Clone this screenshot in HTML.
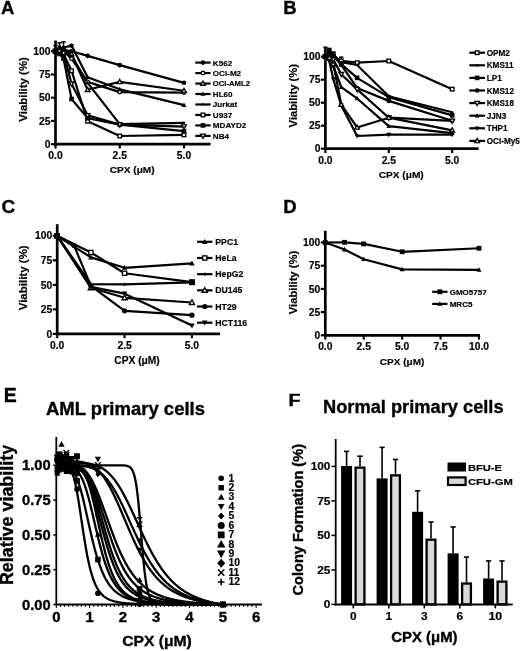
<!DOCTYPE html>
<html><head><meta charset="utf-8"><style>
html,body{margin:0;padding:0;background:#fff;}
svg{display:block;filter:grayscale(1);}
text{font-family:"Liberation Sans",sans-serif;font-weight:bold;}
</style></head><body>
<svg width="520" height="651" viewBox="0 0 520 651">
<rect width="520" height="651" fill="#fff"/>
<text x="1.00" y="14.20" font-size="18.5" text-anchor="start" font-family="Liberation Sans, sans-serif" font-weight="bold"  stroke="#000" stroke-width="0.35">A</text>
<text x="283.30" y="13.80" font-size="18.5" text-anchor="start" font-family="Liberation Sans, sans-serif" font-weight="bold"  stroke="#000" stroke-width="0.35">B</text>
<text x="1.50" y="212.90" font-size="19" text-anchor="start" font-family="Liberation Sans, sans-serif" font-weight="bold"  stroke="#000" stroke-width="0.35">C</text>
<text x="283.30" y="212.90" font-size="18.5" text-anchor="start" font-family="Liberation Sans, sans-serif" font-weight="bold"  stroke="#000" stroke-width="0.35">D</text>
<text x="3.70" y="402.30" font-size="19.5" text-anchor="start" font-family="Liberation Sans, sans-serif" font-weight="bold"  stroke="#000" stroke-width="0.35">E</text>
<text x="288.40" y="406.40" font-size="17.4" text-anchor="start" font-family="Liberation Sans, sans-serif" font-weight="bold"  textLength="12.00" lengthAdjust="spacingAndGlyphs" stroke="#000" stroke-width="0.35">F</text>
<polyline points="55.50,51.20 59.51,49.34 63.53,50.27 71.56,51.20 87.62,55.85 119.75,65.15 184.00,82.82" fill="none" stroke="#000" stroke-width="2.2" stroke-linejoin="round"/>
<polyline points="55.50,51.20 59.51,50.27 63.53,51.20 71.56,58.64 87.62,81.89 119.75,92.12 184.00,92.58" fill="none" stroke="#000" stroke-width="2.2" stroke-linejoin="round"/>
<polyline points="55.50,51.20 59.51,47.48 63.53,48.41 71.56,53.99 87.62,89.79 119.75,81.89 184.00,90.72" fill="none" stroke="#000" stroke-width="2.2" stroke-linejoin="round"/>
<polyline points="55.50,51.20 59.51,48.41 63.53,47.48 71.56,45.62 87.62,77.24 119.75,89.33 184.00,105.14" fill="none" stroke="#000" stroke-width="2.2" stroke-linejoin="round"/>
<polyline points="55.50,51.20 59.51,50.27 63.53,49.34 71.56,55.85 87.62,82.82 119.75,124.20 184.00,122.81" fill="none" stroke="#000" stroke-width="2.2" stroke-linejoin="round"/>
<polyline points="55.50,51.20 59.51,52.13 63.53,53.99 71.56,70.73 87.62,121.23 119.75,136.02 184.00,134.90" fill="none" stroke="#000" stroke-width="2.2" stroke-linejoin="round"/>
<polyline points="55.50,51.20 59.51,53.99 63.53,58.64 71.56,99.00 87.62,118.16 119.75,124.67 184.00,131.18" fill="none" stroke="#000" stroke-width="2.2" stroke-linejoin="round"/>
<polyline points="55.50,51.20 59.51,51.20 63.53,53.06 71.56,83.75 87.62,115.37 119.75,124.67 184.00,126.53" fill="none" stroke="#000" stroke-width="2.2" stroke-linejoin="round"/>
<line x1="59.51" y1="51.20" x2="59.51" y2="42.83" stroke="#000" stroke-width="1.5" />
<line x1="57.31" y1="42.83" x2="61.71" y2="42.83" stroke="#000" stroke-width="1.5" />
<line x1="63.53" y1="50.27" x2="63.53" y2="41.90" stroke="#000" stroke-width="1.5" />
<line x1="61.33" y1="41.90" x2="65.73" y2="41.90" stroke="#000" stroke-width="1.5" />
<line x1="55.50" y1="51.20" x2="55.50" y2="45.62" stroke="#000" stroke-width="1.5" />
<line x1="53.30" y1="45.62" x2="57.70" y2="45.62" stroke="#000" stroke-width="1.5" />
<line x1="71.56" y1="47.48" x2="71.56" y2="44.69" stroke="#000" stroke-width="1.5" />
<line x1="69.36" y1="44.69" x2="73.76" y2="44.69" stroke="#000" stroke-width="1.5" />
<circle cx="55.50" cy="51.20" r="2.30" fill="#000"/>
<circle cx="59.51" cy="49.34" r="2.30" fill="#000"/>
<circle cx="63.53" cy="50.27" r="2.30" fill="#000"/>
<circle cx="71.56" cy="51.20" r="2.30" fill="#000"/>
<circle cx="87.62" cy="55.85" r="2.30" fill="#000"/>
<circle cx="119.75" cy="65.15" r="2.30" fill="#000"/>
<circle cx="184.00" cy="82.82" r="2.30" fill="#000"/>
<circle cx="55.50" cy="51.20" r="1.80" fill="#fff" stroke="#000" stroke-width="1.35"/>
<circle cx="59.51" cy="50.27" r="1.80" fill="#fff" stroke="#000" stroke-width="1.35"/>
<circle cx="63.53" cy="51.20" r="1.80" fill="#fff" stroke="#000" stroke-width="1.35"/>
<circle cx="71.56" cy="58.64" r="1.80" fill="#fff" stroke="#000" stroke-width="1.35"/>
<circle cx="87.62" cy="81.89" r="1.80" fill="#fff" stroke="#000" stroke-width="1.35"/>
<circle cx="119.75" cy="92.12" r="1.80" fill="#fff" stroke="#000" stroke-width="1.35"/>
<circle cx="184.00" cy="92.58" r="1.80" fill="#fff" stroke="#000" stroke-width="1.35"/>
<polygon points="55.50,48.78 57.80,52.92 53.20,52.92" fill="#fff" stroke="#000" stroke-width="1.35"/>
<polygon points="59.51,45.06 61.81,49.20 57.21,49.20" fill="#fff" stroke="#000" stroke-width="1.35"/>
<polygon points="63.53,45.99 65.83,50.13 61.23,50.13" fill="#fff" stroke="#000" stroke-width="1.35"/>
<polygon points="71.56,51.57 73.86,55.71 69.26,55.71" fill="#fff" stroke="#000" stroke-width="1.35"/>
<polygon points="87.62,87.38 89.92,91.52 85.33,91.52" fill="#fff" stroke="#000" stroke-width="1.35"/>
<polygon points="119.75,79.47 122.05,83.61 117.45,83.61" fill="#fff" stroke="#000" stroke-width="1.35"/>
<polygon points="184.00,88.31 186.30,92.45 181.70,92.45" fill="#fff" stroke="#000" stroke-width="1.35"/>
<polygon points="55.50,48.67 57.91,53.04 53.09,53.04" fill="#000"/>
<polygon points="59.51,45.88 61.92,50.25 57.09,50.25" fill="#000"/>
<polygon points="63.53,44.95 65.95,49.32 61.12,49.32" fill="#000"/>
<polygon points="71.56,43.09 73.98,47.46 69.15,47.46" fill="#000"/>
<polygon points="87.62,74.71 90.04,79.08 85.21,79.08" fill="#000"/>
<polygon points="119.75,86.80 122.17,91.17 117.33,91.17" fill="#000"/>
<polygon points="184.00,102.61 186.41,106.98 181.59,106.98" fill="#000"/>
<polygon points="55.50,49.59 57.11,51.20 55.50,52.81 53.89,51.20" fill="#000"/>
<polygon points="59.51,48.66 61.12,50.27 59.51,51.88 57.90,50.27" fill="#000"/>
<polygon points="63.53,47.73 65.14,49.34 63.53,50.95 61.92,49.34" fill="#000"/>
<polygon points="71.56,54.24 73.17,55.85 71.56,57.46 69.95,55.85" fill="#000"/>
<polygon points="87.62,81.21 89.23,82.82 87.62,84.43 86.02,82.82" fill="#000"/>
<polygon points="119.75,122.59 121.36,124.20 119.75,125.81 118.14,124.20" fill="#000"/>
<polygon points="184.00,121.20 185.61,122.81 184.00,124.42 182.39,122.81" fill="#000"/>
<rect x="53.70" y="49.40" width="3.60" height="3.60" fill="#fff" stroke="#000" stroke-width="1.35"/>
<rect x="57.71" y="50.33" width="3.60" height="3.60" fill="#fff" stroke="#000" stroke-width="1.35"/>
<rect x="61.73" y="52.19" width="3.60" height="3.60" fill="#fff" stroke="#000" stroke-width="1.35"/>
<rect x="69.76" y="68.93" width="3.60" height="3.60" fill="#fff" stroke="#000" stroke-width="1.35"/>
<rect x="85.83" y="119.43" width="3.60" height="3.60" fill="#fff" stroke="#000" stroke-width="1.35"/>
<rect x="117.95" y="134.22" width="3.60" height="3.60" fill="#fff" stroke="#000" stroke-width="1.35"/>
<rect x="182.20" y="133.10" width="3.60" height="3.60" fill="#fff" stroke="#000" stroke-width="1.35"/>
<rect x="53.20" y="48.90" width="4.60" height="4.60" fill="#000"/>
<rect x="57.21" y="51.69" width="4.60" height="4.60" fill="#000"/>
<rect x="61.23" y="56.34" width="4.60" height="4.60" fill="#000"/>
<rect x="69.26" y="96.70" width="4.60" height="4.60" fill="#000"/>
<rect x="85.33" y="115.86" width="4.60" height="4.60" fill="#000"/>
<rect x="117.45" y="122.37" width="4.60" height="4.60" fill="#000"/>
<rect x="181.70" y="128.88" width="4.60" height="4.60" fill="#000"/>
<polygon points="55.50,53.61 57.80,49.47 53.20,49.47" fill="#fff" stroke="#000" stroke-width="1.35"/>
<polygon points="59.51,53.61 61.81,49.47 57.21,49.47" fill="#fff" stroke="#000" stroke-width="1.35"/>
<polygon points="63.53,55.47 65.83,51.33 61.23,51.33" fill="#fff" stroke="#000" stroke-width="1.35"/>
<polygon points="71.56,86.16 73.86,82.02 69.26,82.02" fill="#fff" stroke="#000" stroke-width="1.35"/>
<polygon points="87.62,117.78 89.92,113.64 85.33,113.64" fill="#fff" stroke="#000" stroke-width="1.35"/>
<polygon points="119.75,127.08 122.05,122.94 117.45,122.94" fill="#fff" stroke="#000" stroke-width="1.35"/>
<polygon points="184.00,128.94 186.30,124.80 181.70,124.80" fill="#fff" stroke="#000" stroke-width="1.35"/>
<line x1="55.50" y1="40.50" x2="55.50" y2="145.55" stroke="#000" stroke-width="2.7" />
<line x1="54.15" y1="144.20" x2="210.50" y2="144.20" stroke="#000" stroke-width="2.7" />
<line x1="51.00" y1="144.20" x2="55.50" y2="144.20" stroke="#000" stroke-width="2.16" />
<text x="50.50" y="147.89" font-size="10.3" text-anchor="end" font-family="Liberation Sans, sans-serif" font-weight="bold"  stroke="#000" stroke-width="0.18">0</text>
<line x1="51.00" y1="120.95" x2="55.50" y2="120.95" stroke="#000" stroke-width="2.16" />
<text x="50.50" y="124.64" font-size="10.3" text-anchor="end" font-family="Liberation Sans, sans-serif" font-weight="bold"  stroke="#000" stroke-width="0.18">25</text>
<line x1="51.00" y1="97.70" x2="55.50" y2="97.70" stroke="#000" stroke-width="2.16" />
<text x="50.50" y="101.39" font-size="10.3" text-anchor="end" font-family="Liberation Sans, sans-serif" font-weight="bold"  stroke="#000" stroke-width="0.18">50</text>
<line x1="51.00" y1="74.45" x2="55.50" y2="74.45" stroke="#000" stroke-width="2.16" />
<text x="50.50" y="78.14" font-size="10.3" text-anchor="end" font-family="Liberation Sans, sans-serif" font-weight="bold"  stroke="#000" stroke-width="0.18">75</text>
<line x1="51.00" y1="51.20" x2="55.50" y2="51.20" stroke="#000" stroke-width="2.16" />
<text x="50.50" y="54.89" font-size="10.3" text-anchor="end" font-family="Liberation Sans, sans-serif" font-weight="bold"  stroke="#000" stroke-width="0.18">100</text>
<line x1="55.50" y1="144.20" x2="55.50" y2="148.50" stroke="#000" stroke-width="2.16" />
<text x="55.50" y="159.10" font-size="10.3" text-anchor="middle" font-family="Liberation Sans, sans-serif" font-weight="bold"  stroke="#000" stroke-width="0.18">0.0</text>
<line x1="119.75" y1="144.20" x2="119.75" y2="148.50" stroke="#000" stroke-width="2.16" />
<text x="119.75" y="159.10" font-size="10.3" text-anchor="middle" font-family="Liberation Sans, sans-serif" font-weight="bold"  stroke="#000" stroke-width="0.18">2.5</text>
<line x1="184.00" y1="144.20" x2="184.00" y2="148.50" stroke="#000" stroke-width="2.16" />
<text x="184.00" y="159.10" font-size="10.3" text-anchor="middle" font-family="Liberation Sans, sans-serif" font-weight="bold"  stroke="#000" stroke-width="0.18">5.0</text>
<text x="132.20" y="173.10" font-size="9.9" text-anchor="middle" font-family="Liberation Sans, sans-serif" font-weight="bold"  textLength="44.90" lengthAdjust="spacingAndGlyphs" stroke="#000" stroke-width="0.18">CPX (&#956;M)</text>
<text x="26.90" y="89.40" font-size="11.1" text-anchor="middle" font-family="Liberation Sans, sans-serif" font-weight="bold" transform="rotate(-90 26.90 89.40)"  textLength="64.60" lengthAdjust="spacingAndGlyphs" stroke="#000" stroke-width="0.18">Viability (%)</text>
<line x1="195.30" y1="62.60" x2="210.60" y2="62.60" stroke="#000" stroke-width="2.2" />
<circle cx="202.95" cy="62.60" r="2.30" fill="#000"/>
<text x="212.80" y="65.50" font-size="8.1" text-anchor="start" font-family="Liberation Sans, sans-serif" font-weight="bold"  stroke="#000" stroke-width="0.18">K562</text>
<line x1="195.30" y1="73.07" x2="210.60" y2="73.07" stroke="#000" stroke-width="2.2" />
<circle cx="202.95" cy="73.07" r="1.80" fill="#fff" stroke="#000" stroke-width="1.35"/>
<text x="212.80" y="75.97" font-size="8.1" text-anchor="start" font-family="Liberation Sans, sans-serif" font-weight="bold"  stroke="#000" stroke-width="0.18">OCI-M2</text>
<line x1="195.30" y1="83.54" x2="210.60" y2="83.54" stroke="#000" stroke-width="2.2" />
<polygon points="202.95,81.12 205.25,85.27 200.65,85.27" fill="#fff" stroke="#000" stroke-width="1.35"/>
<text x="212.80" y="86.44" font-size="8.1" text-anchor="start" font-family="Liberation Sans, sans-serif" font-weight="bold"  textLength="37.20" lengthAdjust="spacingAndGlyphs" stroke="#000" stroke-width="0.18">OCI-AML2</text>
<line x1="195.30" y1="94.01" x2="210.60" y2="94.01" stroke="#000" stroke-width="2.2" />
<polygon points="202.95,91.48 205.36,95.85 200.53,95.85" fill="#000"/>
<text x="212.80" y="96.91" font-size="8.1" text-anchor="start" font-family="Liberation Sans, sans-serif" font-weight="bold"  stroke="#000" stroke-width="0.18">HL60</text>
<line x1="195.30" y1="104.48" x2="210.60" y2="104.48" stroke="#000" stroke-width="2.2" />
<polygon points="202.95,102.87 204.56,104.48 202.95,106.09 201.34,104.48" fill="#000"/>
<text x="212.80" y="107.38" font-size="8.1" text-anchor="start" font-family="Liberation Sans, sans-serif" font-weight="bold"  stroke="#000" stroke-width="0.18">Jurkat</text>
<line x1="195.30" y1="114.95" x2="210.60" y2="114.95" stroke="#000" stroke-width="2.2" />
<rect x="201.15" y="113.15" width="3.60" height="3.60" fill="#fff" stroke="#000" stroke-width="1.35"/>
<text x="212.80" y="117.85" font-size="8.1" text-anchor="start" font-family="Liberation Sans, sans-serif" font-weight="bold"  stroke="#000" stroke-width="0.18">U937</text>
<line x1="195.30" y1="125.42" x2="210.60" y2="125.42" stroke="#000" stroke-width="2.2" />
<rect x="200.65" y="123.12" width="4.60" height="4.60" fill="#000"/>
<text x="212.80" y="128.32" font-size="8.1" text-anchor="start" font-family="Liberation Sans, sans-serif" font-weight="bold"  stroke="#000" stroke-width="0.18">MDAYD2</text>
<line x1="195.30" y1="135.89" x2="210.60" y2="135.89" stroke="#000" stroke-width="2.2" />
<polygon points="202.95,138.31 205.25,134.17 200.65,134.17" fill="#fff" stroke="#000" stroke-width="1.35"/>
<text x="212.80" y="138.79" font-size="8.1" text-anchor="start" font-family="Liberation Sans, sans-serif" font-weight="bold"  stroke="#000" stroke-width="0.18">NB4</text>
<polyline points="325.40,56.70 329.36,53.94 333.32,56.70 341.25,60.84 357.10,62.68 388.80,61.02 452.20,89.18" fill="none" stroke="#000" stroke-width="2.2" stroke-linejoin="round"/>
<polyline points="325.40,56.70 329.36,53.02 333.32,54.86 341.25,62.22 357.10,64.98 388.80,96.26 452.20,112.27" fill="none" stroke="#000" stroke-width="2.2" stroke-linejoin="round"/>
<polyline points="325.40,56.70 329.36,51.18 333.32,53.94 341.25,64.06 357.10,77.86 388.80,97.18 452.20,115.40" fill="none" stroke="#000" stroke-width="2.2" stroke-linejoin="round"/>
<polyline points="325.40,56.70 329.36,54.86 333.32,55.78 341.25,64.98 357.10,87.98 388.80,100.86 452.20,120.82" fill="none" stroke="#000" stroke-width="2.2" stroke-linejoin="round"/>
<polyline points="325.40,56.70 329.36,56.70 333.32,59.46 341.25,74.18 357.10,89.36 388.80,117.70 452.20,120.82" fill="none" stroke="#000" stroke-width="2.2" stroke-linejoin="round"/>
<polyline points="325.40,56.70 329.36,53.02 333.32,65.90 341.25,87.06 357.10,98.47 388.80,126.16 452.20,133.06" fill="none" stroke="#000" stroke-width="2.2" stroke-linejoin="round"/>
<polyline points="325.40,56.70 329.36,61.30 333.32,79.24 341.25,105.46 357.10,136.00 388.80,134.62 452.20,134.62" fill="none" stroke="#000" stroke-width="2.2" stroke-linejoin="round"/>
<polyline points="325.40,56.70 329.36,57.62 333.32,64.06 341.25,104.54 357.10,127.45 388.80,117.70 452.20,130.30" fill="none" stroke="#000" stroke-width="2.2" stroke-linejoin="round"/>
<line x1="325.40" y1="56.70" x2="325.40" y2="47.50" stroke="#000" stroke-width="1.5" />
<line x1="323.20" y1="47.50" x2="327.60" y2="47.50" stroke="#000" stroke-width="1.5" />
<line x1="329.36" y1="53.02" x2="329.36" y2="48.42" stroke="#000" stroke-width="1.5" />
<line x1="327.16" y1="48.42" x2="331.56" y2="48.42" stroke="#000" stroke-width="1.5" />
<line x1="333.32" y1="55.78" x2="333.32" y2="52.10" stroke="#000" stroke-width="1.5" />
<line x1="331.12" y1="52.10" x2="335.52" y2="52.10" stroke="#000" stroke-width="1.5" />
<line x1="341.25" y1="59.46" x2="341.25" y2="57.16" stroke="#000" stroke-width="1.5" />
<line x1="339.05" y1="57.16" x2="343.45" y2="57.16" stroke="#000" stroke-width="1.5" />
<rect x="323.60" y="54.90" width="3.60" height="3.60" fill="#fff" stroke="#000" stroke-width="1.35"/>
<rect x="327.56" y="52.14" width="3.60" height="3.60" fill="#fff" stroke="#000" stroke-width="1.35"/>
<rect x="331.52" y="54.90" width="3.60" height="3.60" fill="#fff" stroke="#000" stroke-width="1.35"/>
<rect x="339.45" y="59.04" width="3.60" height="3.60" fill="#fff" stroke="#000" stroke-width="1.35"/>
<rect x="355.30" y="60.88" width="3.60" height="3.60" fill="#fff" stroke="#000" stroke-width="1.35"/>
<rect x="387.00" y="59.22" width="3.60" height="3.60" fill="#fff" stroke="#000" stroke-width="1.35"/>
<rect x="450.40" y="87.38" width="3.60" height="3.60" fill="#fff" stroke="#000" stroke-width="1.35"/>
<polygon points="325.40,55.09 327.01,56.70 325.40,58.31 323.79,56.70" fill="#000"/>
<polygon points="329.36,51.41 330.97,53.02 329.36,54.63 327.75,53.02" fill="#000"/>
<polygon points="333.32,53.25 334.94,54.86 333.32,56.47 331.71,54.86" fill="#000"/>
<polygon points="341.25,60.61 342.86,62.22 341.25,63.83 339.64,62.22" fill="#000"/>
<polygon points="357.10,63.37 358.71,64.98 357.10,66.59 355.49,64.98" fill="#000"/>
<polygon points="388.80,94.65 390.41,96.26 388.80,97.87 387.19,96.26" fill="#000"/>
<polygon points="452.20,110.66 453.81,112.27 452.20,113.88 450.59,112.27" fill="#000"/>
<rect x="323.10" y="54.40" width="4.60" height="4.60" fill="#000"/>
<rect x="327.06" y="48.88" width="4.60" height="4.60" fill="#000"/>
<rect x="331.02" y="51.64" width="4.60" height="4.60" fill="#000"/>
<rect x="338.95" y="61.76" width="4.60" height="4.60" fill="#000"/>
<rect x="354.80" y="75.56" width="4.60" height="4.60" fill="#000"/>
<rect x="386.50" y="94.88" width="4.60" height="4.60" fill="#000"/>
<rect x="449.90" y="113.10" width="4.60" height="4.60" fill="#000"/>
<circle cx="325.40" cy="56.70" r="2.30" fill="#000"/>
<circle cx="329.36" cy="54.86" r="2.30" fill="#000"/>
<circle cx="333.32" cy="55.78" r="2.30" fill="#000"/>
<circle cx="341.25" cy="64.98" r="2.30" fill="#000"/>
<circle cx="357.10" cy="87.98" r="2.30" fill="#000"/>
<circle cx="388.80" cy="100.86" r="2.30" fill="#000"/>
<circle cx="452.20" cy="120.82" r="2.30" fill="#000"/>
<polygon points="325.40,59.11 327.70,54.97 323.10,54.97" fill="#fff" stroke="#000" stroke-width="1.35"/>
<polygon points="329.36,59.11 331.66,54.97 327.06,54.97" fill="#fff" stroke="#000" stroke-width="1.35"/>
<polygon points="333.32,61.87 335.62,57.73 331.02,57.73" fill="#fff" stroke="#000" stroke-width="1.35"/>
<polygon points="341.25,76.59 343.55,72.45 338.95,72.45" fill="#fff" stroke="#000" stroke-width="1.35"/>
<polygon points="357.10,91.77 359.40,87.63 354.80,87.63" fill="#fff" stroke="#000" stroke-width="1.35"/>
<polygon points="388.80,120.11 391.10,115.97 386.50,115.97" fill="#fff" stroke="#000" stroke-width="1.35"/>
<polygon points="452.20,123.24 454.50,119.10 449.90,119.10" fill="#fff" stroke="#000" stroke-width="1.35"/>
<polygon points="325.40,54.17 327.81,58.54 322.98,58.54" fill="#000"/>
<polygon points="329.36,50.49 331.77,54.86 326.94,54.86" fill="#000"/>
<polygon points="333.32,63.37 335.74,67.74 330.91,67.74" fill="#000"/>
<polygon points="341.25,84.53 343.67,88.90 338.83,88.90" fill="#000"/>
<polygon points="357.10,95.94 359.51,100.31 354.68,100.31" fill="#000"/>
<polygon points="388.80,123.63 391.21,128.00 386.38,128.00" fill="#000"/>
<polygon points="452.20,130.53 454.62,134.90 449.78,134.90" fill="#000"/>
<polygon points="325.40,59.23 327.81,54.86 322.98,54.86" fill="#000"/>
<polygon points="329.36,63.83 331.77,59.46 326.94,59.46" fill="#000"/>
<polygon points="333.32,81.77 335.74,77.40 330.91,77.40" fill="#000"/>
<polygon points="341.25,107.99 343.67,103.62 338.83,103.62" fill="#000"/>
<polygon points="357.10,138.53 359.51,134.16 354.68,134.16" fill="#000"/>
<polygon points="388.80,137.15 391.21,132.78 386.38,132.78" fill="#000"/>
<polygon points="452.20,137.15 454.62,132.78 449.78,132.78" fill="#000"/>
<polygon points="325.40,54.28 327.70,58.42 323.10,58.42" fill="#fff" stroke="#000" stroke-width="1.35"/>
<polygon points="329.36,55.20 331.66,59.34 327.06,59.34" fill="#fff" stroke="#000" stroke-width="1.35"/>
<polygon points="333.32,61.64 335.62,65.78 331.02,65.78" fill="#fff" stroke="#000" stroke-width="1.35"/>
<polygon points="341.25,102.12 343.55,106.26 338.95,106.26" fill="#fff" stroke="#000" stroke-width="1.35"/>
<polygon points="357.10,125.03 359.40,129.17 354.80,129.17" fill="#fff" stroke="#000" stroke-width="1.35"/>
<polygon points="388.80,115.28 391.10,119.42 386.50,119.42" fill="#fff" stroke="#000" stroke-width="1.35"/>
<polygon points="452.20,127.88 454.50,132.02 449.90,132.02" fill="#fff" stroke="#000" stroke-width="1.35"/>
<line x1="325.40" y1="46.50" x2="325.40" y2="150.05" stroke="#000" stroke-width="2.7" />
<line x1="324.05" y1="148.70" x2="478.60" y2="148.70" stroke="#000" stroke-width="2.7" />
<line x1="320.90" y1="148.70" x2="325.40" y2="148.70" stroke="#000" stroke-width="2.16" />
<text x="320.40" y="152.39" font-size="10.3" text-anchor="end" font-family="Liberation Sans, sans-serif" font-weight="bold"  stroke="#000" stroke-width="0.18">0</text>
<line x1="320.90" y1="125.70" x2="325.40" y2="125.70" stroke="#000" stroke-width="2.16" />
<text x="320.40" y="129.39" font-size="10.3" text-anchor="end" font-family="Liberation Sans, sans-serif" font-weight="bold"  stroke="#000" stroke-width="0.18">25</text>
<line x1="320.90" y1="102.70" x2="325.40" y2="102.70" stroke="#000" stroke-width="2.16" />
<text x="320.40" y="106.39" font-size="10.3" text-anchor="end" font-family="Liberation Sans, sans-serif" font-weight="bold"  stroke="#000" stroke-width="0.18">50</text>
<line x1="320.90" y1="79.70" x2="325.40" y2="79.70" stroke="#000" stroke-width="2.16" />
<text x="320.40" y="83.39" font-size="10.3" text-anchor="end" font-family="Liberation Sans, sans-serif" font-weight="bold"  stroke="#000" stroke-width="0.18">75</text>
<line x1="320.90" y1="56.70" x2="325.40" y2="56.70" stroke="#000" stroke-width="2.16" />
<text x="320.40" y="60.39" font-size="10.3" text-anchor="end" font-family="Liberation Sans, sans-serif" font-weight="bold"  stroke="#000" stroke-width="0.18">100</text>
<line x1="325.40" y1="148.70" x2="325.40" y2="153.00" stroke="#000" stroke-width="2.16" />
<text x="325.40" y="163.60" font-size="10.3" text-anchor="middle" font-family="Liberation Sans, sans-serif" font-weight="bold"  stroke="#000" stroke-width="0.18">0.0</text>
<line x1="388.80" y1="148.70" x2="388.80" y2="153.00" stroke="#000" stroke-width="2.16" />
<text x="388.80" y="163.60" font-size="10.3" text-anchor="middle" font-family="Liberation Sans, sans-serif" font-weight="bold"  stroke="#000" stroke-width="0.18">2.5</text>
<line x1="452.20" y1="148.70" x2="452.20" y2="153.00" stroke="#000" stroke-width="2.16" />
<text x="452.20" y="163.60" font-size="10.3" text-anchor="middle" font-family="Liberation Sans, sans-serif" font-weight="bold"  stroke="#000" stroke-width="0.18">5.0</text>
<text x="401.25" y="177.60" font-size="9.9" text-anchor="middle" font-family="Liberation Sans, sans-serif" font-weight="bold"  textLength="45.00" lengthAdjust="spacingAndGlyphs" stroke="#000" stroke-width="0.18">CPX (&#956;M)</text>
<text x="296.90" y="95.65" font-size="11.1" text-anchor="middle" font-family="Liberation Sans, sans-serif" font-weight="bold" transform="rotate(-90 296.90 95.65)"  textLength="63.50" lengthAdjust="spacingAndGlyphs" stroke="#000" stroke-width="0.18">Viability (%)</text>
<line x1="469.30" y1="52.70" x2="485.00" y2="52.70" stroke="#000" stroke-width="2.2" />
<rect x="475.35" y="50.90" width="3.60" height="3.60" fill="#fff" stroke="#000" stroke-width="1.35"/>
<text x="486.70" y="55.81" font-size="8.7" text-anchor="start" font-family="Liberation Sans, sans-serif" font-weight="bold"  textLength="23.18" lengthAdjust="spacingAndGlyphs" stroke="#000" stroke-width="0.18">OPM2</text>
<line x1="469.30" y1="65.30" x2="485.00" y2="65.30" stroke="#000" stroke-width="2.2" />
<polygon points="477.15,63.69 478.76,65.30 477.15,66.91 475.54,65.30" fill="#000"/>
<text x="486.70" y="68.41" font-size="8.7" text-anchor="start" font-family="Liberation Sans, sans-serif" font-weight="bold"  textLength="26.82" lengthAdjust="spacingAndGlyphs" stroke="#000" stroke-width="0.18">KMS11</text>
<line x1="469.30" y1="77.90" x2="485.00" y2="77.90" stroke="#000" stroke-width="2.2" />
<rect x="474.85" y="75.60" width="4.60" height="4.60" fill="#000"/>
<text x="486.70" y="81.01" font-size="8.7" text-anchor="start" font-family="Liberation Sans, sans-serif" font-weight="bold"  textLength="15.00" lengthAdjust="spacingAndGlyphs" stroke="#000" stroke-width="0.18">LP1</text>
<line x1="469.30" y1="90.50" x2="485.00" y2="90.50" stroke="#000" stroke-width="2.2" />
<circle cx="477.15" cy="90.50" r="2.30" fill="#000"/>
<text x="486.70" y="93.61" font-size="8.7" text-anchor="start" font-family="Liberation Sans, sans-serif" font-weight="bold"  textLength="27.27" lengthAdjust="spacingAndGlyphs" stroke="#000" stroke-width="0.18">KMS12</text>
<line x1="469.30" y1="103.10" x2="485.00" y2="103.10" stroke="#000" stroke-width="2.2" />
<polygon points="477.15,105.52 479.45,101.38 474.85,101.38" fill="#fff" stroke="#000" stroke-width="1.35"/>
<text x="486.70" y="106.21" font-size="8.7" text-anchor="start" font-family="Liberation Sans, sans-serif" font-weight="bold"  textLength="27.27" lengthAdjust="spacingAndGlyphs" stroke="#000" stroke-width="0.18">KMS18</text>
<line x1="469.30" y1="115.70" x2="485.00" y2="115.70" stroke="#000" stroke-width="2.2" />
<polygon points="477.15,113.17 479.56,117.54 474.73,117.54" fill="#000"/>
<text x="486.70" y="118.81" font-size="8.7" text-anchor="start" font-family="Liberation Sans, sans-serif" font-weight="bold"  textLength="19.55" lengthAdjust="spacingAndGlyphs" stroke="#000" stroke-width="0.18">JJN3</text>
<line x1="469.30" y1="128.30" x2="485.00" y2="128.30" stroke="#000" stroke-width="2.2" />
<polygon points="477.15,130.83 479.56,126.46 474.73,126.46" fill="#000"/>
<text x="486.70" y="131.41" font-size="8.7" text-anchor="start" font-family="Liberation Sans, sans-serif" font-weight="bold"  textLength="20.90" lengthAdjust="spacingAndGlyphs" stroke="#000" stroke-width="0.18">THP1</text>
<line x1="469.30" y1="140.90" x2="485.00" y2="140.90" stroke="#000" stroke-width="2.2" />
<polygon points="477.15,138.49 479.45,142.62 474.85,142.62" fill="#fff" stroke="#000" stroke-width="1.35"/>
<text x="486.70" y="144.01" font-size="8.7" text-anchor="start" font-family="Liberation Sans, sans-serif" font-weight="bold"  textLength="33.17" lengthAdjust="spacingAndGlyphs" stroke="#000" stroke-width="0.18">OCI-My5</text>
<polyline points="57.20,235.80 90.89,257.38 124.58,267.78 191.95,263.46" fill="none" stroke="#000" stroke-width="2.2" stroke-linejoin="round"/>
<polyline points="57.20,235.80 90.89,252.48 124.58,273.27 191.95,282.20" fill="none" stroke="#000" stroke-width="2.2" stroke-linejoin="round"/>
<polyline points="57.20,235.80 90.89,284.16 124.58,284.36 191.95,282.40" fill="none" stroke="#000" stroke-width="2.2" stroke-linejoin="round"/>
<polyline points="57.20,235.80 90.89,287.79 124.58,297.80 191.95,302.51" fill="none" stroke="#000" stroke-width="2.2" stroke-linejoin="round"/>
<polyline points="57.20,235.80 74.04,245.61 90.89,285.83 124.58,310.85 191.95,315.16" fill="none" stroke="#000" stroke-width="2.2" stroke-linejoin="round"/>
<polyline points="57.20,235.80 90.89,286.81 124.58,293.68 191.95,325.56" fill="none" stroke="#000" stroke-width="2.2" stroke-linejoin="round"/>
<polygon points="57.20,232.94 59.93,237.88 54.47,237.88" fill="#000"/>
<polygon points="90.89,254.52 93.62,259.46 88.16,259.46" fill="#000"/>
<polygon points="124.58,264.92 127.31,269.86 121.84,269.86" fill="#000"/>
<polygon points="191.95,260.60 194.68,265.54 189.22,265.54" fill="#000"/>
<rect x="55.10" y="233.70" width="4.20" height="4.20" fill="#fff" stroke="#000" stroke-width="1.35"/>
<rect x="88.79" y="250.38" width="4.20" height="4.20" fill="#fff" stroke="#000" stroke-width="1.35"/>
<rect x="122.48" y="271.17" width="4.20" height="4.20" fill="#fff" stroke="#000" stroke-width="1.35"/>
<rect x="189.85" y="280.10" width="4.20" height="4.20" fill="#fff" stroke="#000" stroke-width="1.35"/>
<polygon points="57.20,233.98 59.02,235.80 57.20,237.62 55.38,235.80" fill="#000"/>
<polygon points="90.89,282.34 92.71,284.16 90.89,285.98 89.07,284.16" fill="#000"/>
<polygon points="124.58,282.54 126.39,284.36 124.58,286.18 122.76,284.36" fill="#000"/>
<polygon points="191.95,280.58 193.77,282.40 191.95,284.22 190.13,282.40" fill="#000"/>
<polygon points="57.20,233.07 59.80,237.75 54.60,237.75" fill="#fff" stroke="#000" stroke-width="1.35"/>
<polygon points="90.89,285.06 93.49,289.74 88.29,289.74" fill="#fff" stroke="#000" stroke-width="1.35"/>
<polygon points="124.58,295.07 127.17,299.75 121.98,299.75" fill="#fff" stroke="#000" stroke-width="1.35"/>
<polygon points="191.95,299.78 194.55,304.46 189.35,304.46" fill="#fff" stroke="#000" stroke-width="1.35"/>
<circle cx="57.20" cy="235.80" r="2.60" fill="#000"/>
<circle cx="74.04" cy="245.61" r="2.60" fill="#000"/>
<circle cx="90.89" cy="285.83" r="2.60" fill="#000"/>
<circle cx="124.58" cy="310.85" r="2.60" fill="#000"/>
<circle cx="191.95" cy="315.16" r="2.60" fill="#000"/>
<polygon points="57.20,238.66 59.93,233.72 54.47,233.72" fill="#000"/>
<polygon points="90.89,289.67 93.62,284.73 88.16,284.73" fill="#000"/>
<polygon points="124.58,296.54 127.31,291.60 121.84,291.60" fill="#000"/>
<polygon points="191.95,328.42 194.68,323.48 189.22,323.48" fill="#000"/>
<rect x="189.05" y="279.40" width="5.80" height="5.80" fill="#000"/>
<circle cx="57.20" cy="235.80" r="2.75" fill="#000"/>
<line x1="57.20" y1="224.20" x2="57.20" y2="335.25" stroke="#000" stroke-width="2.7" />
<line x1="55.85" y1="333.90" x2="220.00" y2="333.90" stroke="#000" stroke-width="2.7" />
<line x1="52.70" y1="333.90" x2="57.20" y2="333.90" stroke="#000" stroke-width="2.16" />
<text x="52.20" y="337.59" font-size="10.3" text-anchor="end" font-family="Liberation Sans, sans-serif" font-weight="bold"  stroke="#000" stroke-width="0.18">0</text>
<line x1="52.70" y1="309.38" x2="57.20" y2="309.38" stroke="#000" stroke-width="2.16" />
<text x="52.20" y="313.06" font-size="10.3" text-anchor="end" font-family="Liberation Sans, sans-serif" font-weight="bold"  stroke="#000" stroke-width="0.18">25</text>
<line x1="52.70" y1="284.85" x2="57.20" y2="284.85" stroke="#000" stroke-width="2.16" />
<text x="52.20" y="288.54" font-size="10.3" text-anchor="end" font-family="Liberation Sans, sans-serif" font-weight="bold"  stroke="#000" stroke-width="0.18">50</text>
<line x1="52.70" y1="260.32" x2="57.20" y2="260.32" stroke="#000" stroke-width="2.16" />
<text x="52.20" y="264.01" font-size="10.3" text-anchor="end" font-family="Liberation Sans, sans-serif" font-weight="bold"  stroke="#000" stroke-width="0.18">75</text>
<line x1="52.70" y1="235.80" x2="57.20" y2="235.80" stroke="#000" stroke-width="2.16" />
<text x="52.20" y="239.49" font-size="10.3" text-anchor="end" font-family="Liberation Sans, sans-serif" font-weight="bold"  stroke="#000" stroke-width="0.18">100</text>
<line x1="57.20" y1="333.90" x2="57.20" y2="338.20" stroke="#000" stroke-width="2.16" />
<text x="57.20" y="348.80" font-size="10.3" text-anchor="middle" font-family="Liberation Sans, sans-serif" font-weight="bold"  stroke="#000" stroke-width="0.18">0.0</text>
<line x1="124.58" y1="333.90" x2="124.58" y2="338.20" stroke="#000" stroke-width="2.16" />
<text x="124.58" y="348.80" font-size="10.3" text-anchor="middle" font-family="Liberation Sans, sans-serif" font-weight="bold"  stroke="#000" stroke-width="0.18">2.5</text>
<line x1="191.95" y1="333.90" x2="191.95" y2="338.20" stroke="#000" stroke-width="2.16" />
<text x="191.95" y="348.80" font-size="10.3" text-anchor="middle" font-family="Liberation Sans, sans-serif" font-weight="bold"  stroke="#000" stroke-width="0.18">5.0</text>
<text x="137.00" y="364.40" font-size="10.2" text-anchor="middle" font-family="Liberation Sans, sans-serif" font-weight="bold"  textLength="45.40" lengthAdjust="spacingAndGlyphs" stroke="#000" stroke-width="0.18">CPX (&#956;M)</text>
<text x="27.00" y="277.80" font-size="11.1" text-anchor="middle" font-family="Liberation Sans, sans-serif" font-weight="bold" transform="rotate(-90 27.00 277.80)"  textLength="65.00" lengthAdjust="spacingAndGlyphs" stroke="#000" stroke-width="0.18">Viability (%)</text>
<line x1="197.10" y1="241.80" x2="212.40" y2="241.80" stroke="#000" stroke-width="2.2" />
<polygon points="204.75,238.94 207.48,243.88 202.02,243.88" fill="#000"/>
<text x="215.30" y="244.91" font-size="8.7" text-anchor="start" font-family="Liberation Sans, sans-serif" font-weight="bold"  stroke="#000" stroke-width="0.18">PPC1</text>
<line x1="197.10" y1="257.98" x2="212.40" y2="257.98" stroke="#000" stroke-width="2.2" />
<rect x="202.65" y="255.88" width="4.20" height="4.20" fill="#fff" stroke="#000" stroke-width="1.35"/>
<text x="215.30" y="261.09" font-size="8.7" text-anchor="start" font-family="Liberation Sans, sans-serif" font-weight="bold"  stroke="#000" stroke-width="0.18">HeLa</text>
<line x1="197.10" y1="274.16" x2="212.40" y2="274.16" stroke="#000" stroke-width="2.2" />
<polygon points="204.75,272.34 206.57,274.16 204.75,275.98 202.93,274.16" fill="#000"/>
<text x="215.30" y="277.27" font-size="8.7" text-anchor="start" font-family="Liberation Sans, sans-serif" font-weight="bold"  stroke="#000" stroke-width="0.18">HepG2</text>
<line x1="197.10" y1="290.34" x2="212.40" y2="290.34" stroke="#000" stroke-width="2.2" />
<polygon points="204.75,287.61 207.35,292.29 202.15,292.29" fill="#fff" stroke="#000" stroke-width="1.35"/>
<text x="215.30" y="293.45" font-size="8.7" text-anchor="start" font-family="Liberation Sans, sans-serif" font-weight="bold"  stroke="#000" stroke-width="0.18">DU145</text>
<line x1="197.10" y1="306.52" x2="212.40" y2="306.52" stroke="#000" stroke-width="2.2" />
<circle cx="204.75" cy="306.52" r="2.60" fill="#000"/>
<text x="215.30" y="309.63" font-size="8.7" text-anchor="start" font-family="Liberation Sans, sans-serif" font-weight="bold"  stroke="#000" stroke-width="0.18">HT29</text>
<line x1="197.10" y1="322.70" x2="212.40" y2="322.70" stroke="#000" stroke-width="2.2" />
<polygon points="204.75,325.56 207.48,320.62 202.02,320.62" fill="#000"/>
<text x="215.30" y="325.81" font-size="8.7" text-anchor="start" font-family="Liberation Sans, sans-serif" font-weight="bold"  stroke="#000" stroke-width="0.18">HCT116</text>
<polyline points="325.30,242.50 344.51,242.31 363.73,243.89 402.15,251.78 479.00,248.25" fill="none" stroke="#000" stroke-width="2.2" stroke-linejoin="round"/>
<polyline points="325.30,242.50 344.51,249.46 363.73,259.20 402.15,269.41 479.00,269.88" fill="none" stroke="#000" stroke-width="2.2" stroke-linejoin="round"/>
<rect x="322.90" y="240.10" width="4.80" height="4.80" fill="#000"/>
<rect x="342.11" y="239.91" width="4.80" height="4.80" fill="#000"/>
<rect x="361.33" y="241.49" width="4.80" height="4.80" fill="#000"/>
<rect x="399.75" y="249.38" width="4.80" height="4.80" fill="#000"/>
<rect x="476.60" y="245.85" width="4.80" height="4.80" fill="#000"/>
<polygon points="325.30,239.86 327.82,244.42 322.78,244.42" fill="#000"/>
<polygon points="344.51,246.82 347.03,251.38 341.99,251.38" fill="#000"/>
<polygon points="363.73,256.56 366.25,261.12 361.21,261.12" fill="#000"/>
<polygon points="402.15,266.77 404.67,271.33 399.63,271.33" fill="#000"/>
<polygon points="479.00,267.24 481.52,271.80 476.48,271.80" fill="#000"/>
<line x1="325.30" y1="230.80" x2="325.30" y2="336.65" stroke="#000" stroke-width="2.7" />
<line x1="323.95" y1="335.30" x2="480.00" y2="335.30" stroke="#000" stroke-width="2.7" />
<line x1="320.80" y1="335.30" x2="325.30" y2="335.30" stroke="#000" stroke-width="2.16" />
<text x="320.30" y="338.99" font-size="10.3" text-anchor="end" font-family="Liberation Sans, sans-serif" font-weight="bold"  stroke="#000" stroke-width="0.18">0</text>
<line x1="320.80" y1="312.10" x2="325.30" y2="312.10" stroke="#000" stroke-width="2.16" />
<text x="320.30" y="315.79" font-size="10.3" text-anchor="end" font-family="Liberation Sans, sans-serif" font-weight="bold"  stroke="#000" stroke-width="0.18">25</text>
<line x1="320.80" y1="288.90" x2="325.30" y2="288.90" stroke="#000" stroke-width="2.16" />
<text x="320.30" y="292.59" font-size="10.3" text-anchor="end" font-family="Liberation Sans, sans-serif" font-weight="bold"  stroke="#000" stroke-width="0.18">50</text>
<line x1="320.80" y1="265.70" x2="325.30" y2="265.70" stroke="#000" stroke-width="2.16" />
<text x="320.30" y="269.39" font-size="10.3" text-anchor="end" font-family="Liberation Sans, sans-serif" font-weight="bold"  stroke="#000" stroke-width="0.18">75</text>
<line x1="320.80" y1="242.50" x2="325.30" y2="242.50" stroke="#000" stroke-width="2.16" />
<text x="320.30" y="246.19" font-size="10.3" text-anchor="end" font-family="Liberation Sans, sans-serif" font-weight="bold"  stroke="#000" stroke-width="0.18">100</text>
<line x1="325.30" y1="335.30" x2="325.30" y2="339.60" stroke="#000" stroke-width="2.16" />
<text x="325.30" y="350.30" font-size="10.3" text-anchor="middle" font-family="Liberation Sans, sans-serif" font-weight="bold"  stroke="#000" stroke-width="0.18">0.0</text>
<line x1="363.73" y1="335.30" x2="363.73" y2="339.60" stroke="#000" stroke-width="2.16" />
<text x="363.73" y="350.30" font-size="10.3" text-anchor="middle" font-family="Liberation Sans, sans-serif" font-weight="bold"  stroke="#000" stroke-width="0.18">2.5</text>
<line x1="402.15" y1="335.30" x2="402.15" y2="339.60" stroke="#000" stroke-width="2.16" />
<text x="402.15" y="350.30" font-size="10.3" text-anchor="middle" font-family="Liberation Sans, sans-serif" font-weight="bold"  stroke="#000" stroke-width="0.18">5.0</text>
<line x1="440.57" y1="335.30" x2="440.57" y2="339.60" stroke="#000" stroke-width="2.16" />
<text x="440.57" y="350.30" font-size="10.3" text-anchor="middle" font-family="Liberation Sans, sans-serif" font-weight="bold"  stroke="#000" stroke-width="0.18">7.5</text>
<line x1="479.00" y1="335.30" x2="479.00" y2="339.60" stroke="#000" stroke-width="2.16" />
<text x="479.00" y="350.30" font-size="10.3" text-anchor="middle" font-family="Liberation Sans, sans-serif" font-weight="bold"  stroke="#000" stroke-width="0.18">10.0</text>
<text x="402.10" y="364.80" font-size="9.9" text-anchor="middle" font-family="Liberation Sans, sans-serif" font-weight="bold"  textLength="44.50" lengthAdjust="spacingAndGlyphs" stroke="#000" stroke-width="0.18">CPX (&#956;M)</text>
<text x="297.10" y="282.50" font-size="11.1" text-anchor="middle" font-family="Liberation Sans, sans-serif" font-weight="bold" transform="rotate(-90 297.10 282.50)"  textLength="63.30" lengthAdjust="spacingAndGlyphs" stroke="#000" stroke-width="0.18">Viability (%)</text>
<line x1="432.20" y1="291.80" x2="447.50" y2="291.80" stroke="#000" stroke-width="2.2" />
<rect x="437.45" y="289.40" width="4.80" height="4.80" fill="#000"/>
<text x="449.70" y="294.66" font-size="8.0" text-anchor="start" font-family="Liberation Sans, sans-serif" font-weight="bold"  stroke="#000" stroke-width="0.18">GMO5757</text>
<line x1="432.20" y1="303.90" x2="447.50" y2="303.90" stroke="#000" stroke-width="2.2" />
<polygon points="439.85,301.26 442.37,305.82 437.33,305.82" fill="#000"/>
<text x="449.70" y="306.76" font-size="8.0" text-anchor="start" font-family="Liberation Sans, sans-serif" font-weight="bold"  stroke="#000" stroke-width="0.18">MRC5</text>
<polyline points="56.30,463.91 56.97,463.91 57.63,463.91 58.30,463.91 58.96,463.91 59.63,463.91 60.30,463.92 60.96,463.93 61.63,463.95 62.29,463.98 62.96,464.03 63.63,464.10 64.29,464.21 64.96,464.36 65.62,464.56 66.29,464.82 66.96,465.17 67.62,465.61 68.29,466.16 68.95,466.85 69.62,467.69 70.29,468.70 70.95,469.90 71.62,471.31 72.28,472.95 72.95,474.84 73.62,476.99 74.28,479.40 74.95,482.09 75.61,485.06 76.28,488.29 76.95,491.77 77.61,495.49 78.28,499.41 78.94,503.52 79.61,507.77 80.28,512.13 80.94,516.56 81.61,521.02 82.27,525.47 82.94,529.88 83.61,534.21 84.27,538.44 84.94,542.54 85.60,546.50 86.27,550.28 86.94,553.90 87.60,557.33 88.27,560.57 88.93,563.62 89.60,566.49 90.27,569.17 90.93,571.68 91.60,574.01 92.26,576.19 92.93,578.21 93.60,580.08 94.26,581.81 94.93,583.42 95.59,584.91 96.26,586.28 96.93,587.56 97.59,588.73 98.26,589.82 98.92,590.82 99.59,591.75 100.26,592.61 100.92,593.40 101.59,594.14 102.25,594.82 102.92,595.45 103.59,596.03 104.25,596.57 104.92,597.07 105.58,597.54 106.25,597.97 106.92,598.37 107.58,598.75 108.25,599.09 108.91,599.41 109.58,599.72 110.25,599.99 110.91,600.26 111.58,600.50 112.24,600.73 112.91,600.94 113.58,601.14 114.24,601.32 114.91,601.50 115.57,601.66 116.24,601.81 116.91,601.95 117.57,602.09 118.24,602.21 118.90,602.33 119.57,602.44 120.24,602.55 120.90,602.64 121.57,602.74 122.23,602.82 122.90,602.91 123.57,602.98 124.23,603.06 124.90,603.13 125.56,603.19 126.23,603.25 126.90,603.31 127.56,603.36 128.23,603.42 128.89,603.47 129.56,603.51 130.23,603.56 130.89,603.60 131.56,603.64 132.22,603.68 132.89,603.71 133.56,603.75 134.22,603.78 134.89,603.81 135.55,603.84 136.22,603.87 136.89,603.89 137.55,603.92 138.22,603.94 138.88,603.96 139.55,603.98 140.22,604.01 140.88,604.03 141.55,604.04 142.21,604.06 142.88,604.08 143.55,604.10 144.21,604.11 144.88,604.13 145.54,604.14 146.21,604.15 146.88,604.17 147.54,604.18 148.21,604.19 148.87,604.20 149.54,604.21 150.21,604.22 150.87,604.24 151.54,604.24 152.20,604.25 152.87,604.26 153.54,604.27 154.20,604.28 154.87,604.29 155.53,604.30 156.20,604.30 156.87,604.31 157.53,604.32 158.20,604.32 158.86,604.33 159.53,604.33 160.20,604.34 160.86,604.35 161.53,604.35 162.19,604.36 162.86,604.36 163.53,604.37 164.19,604.37 164.86,604.38 165.52,604.38 166.19,604.38 166.86,604.39 167.52,604.39 168.19,604.40 168.85,604.40 169.52,604.40 170.19,604.41 170.85,604.41 171.52,604.41 172.18,604.41 172.85,604.42 173.52,604.42 174.18,604.42 174.85,604.43 175.51,604.43 176.18,604.43 176.85,604.43 177.51,604.44 178.18,604.44 178.84,604.44 179.51,604.44 180.18,604.44 180.84,604.45 181.51,604.45 182.17,604.45 182.84,604.45 183.51,604.45 184.17,604.45 184.84,604.46 185.50,604.46 186.17,604.46 186.84,604.46 187.50,604.46 188.17,604.46 188.83,604.46 189.50,604.47 190.17,604.47 190.83,604.47 191.50,604.47 192.16,604.47 192.83,604.47 193.50,604.47 194.16,604.47 194.83,604.47 195.49,604.48 196.16,604.48 196.83,604.48 197.49,604.48 198.16,604.48 198.82,604.48 199.49,604.48 200.16,604.48 200.82,604.48 201.49,604.48 202.15,604.48 202.82,604.49 203.49,604.49 204.15,604.49 204.82,604.49 205.48,604.49 206.15,604.49 206.82,604.49 207.48,604.49 208.15,604.49 208.81,604.49 209.48,604.49 210.15,604.49 210.81,604.49 211.48,604.49 212.14,604.49 212.81,604.49 213.48,604.49 214.14,604.49 214.81,604.50 215.47,604.50 216.14,604.50 216.81,604.50 217.47,604.50 218.14,604.50 218.80,604.50 219.47,604.50 220.14,604.50 220.80,604.50 221.47,604.50 222.13,604.50 222.80,604.50" fill="none" stroke="#000" stroke-width="2.3" stroke-linejoin="round"/>
<polyline points="56.30,465.30 56.97,465.30 57.63,465.30 58.30,465.30 58.96,465.30 59.63,465.31 60.30,465.31 60.96,465.32 61.63,465.34 62.29,465.37 62.96,465.41 63.63,465.47 64.29,465.54 64.96,465.64 65.62,465.77 66.29,465.93 66.96,466.14 67.62,466.38 68.29,466.68 68.95,467.04 69.62,467.46 70.29,467.96 70.95,468.53 71.62,469.20 72.28,469.95 72.95,470.81 73.62,471.77 74.28,472.85 74.95,474.05 75.61,475.37 76.28,476.82 76.95,478.41 77.61,480.12 78.28,481.96 78.94,483.94 79.61,486.05 80.28,488.28 80.94,490.63 81.61,493.09 82.27,495.66 82.94,498.33 83.61,501.08 84.27,503.90 84.94,506.79 85.60,509.73 86.27,512.70 86.94,515.70 87.60,518.71 88.27,521.72 88.93,524.72 89.60,527.70 90.27,530.65 90.93,533.55 91.60,536.40 92.26,539.20 92.93,541.93 93.60,544.59 94.26,547.18 94.93,549.69 95.59,552.11 96.26,554.46 96.93,556.72 97.59,558.89 98.26,560.98 98.92,562.99 99.59,564.91 100.26,566.75 100.92,568.51 101.59,570.19 102.25,571.79 102.92,573.32 103.59,574.78 104.25,576.16 104.92,577.48 105.58,578.74 106.25,579.94 106.92,581.08 107.58,582.16 108.25,583.18 108.91,584.16 109.58,585.09 110.25,585.97 110.91,586.81 111.58,587.61 112.24,588.36 112.91,589.08 113.58,589.76 114.24,590.41 114.91,591.03 115.57,591.61 116.24,592.17 116.91,592.70 117.57,593.21 118.24,593.69 118.90,594.14 119.57,594.58 120.24,594.99 120.90,595.38 121.57,595.76 122.23,596.12 122.90,596.46 123.57,596.78 124.23,597.09 124.90,597.39 125.56,597.67 126.23,597.94 126.90,598.19 127.56,598.44 128.23,598.67 128.89,598.89 129.56,599.11 130.23,599.31 130.89,599.51 131.56,599.69 132.22,599.87 132.89,600.04 133.56,600.21 134.22,600.36 134.89,600.51 135.55,600.66 136.22,600.80 136.89,600.93 137.55,601.05 138.22,601.18 138.88,601.29 139.55,601.40 140.22,601.51 140.88,601.62 141.55,601.71 142.21,601.81 142.88,601.90 143.55,601.99 144.21,602.07 144.88,602.16 145.54,602.23 146.21,602.31 146.88,602.38 147.54,602.45 148.21,602.52 148.87,602.58 149.54,602.65 150.21,602.71 150.87,602.76 151.54,602.82 152.20,602.87 152.87,602.93 153.54,602.98 154.20,603.02 154.87,603.07 155.53,603.12 156.20,603.16 156.87,603.20 157.53,603.24 158.20,603.28 158.86,603.32 159.53,603.36 160.20,603.39 160.86,603.43 161.53,603.46 162.19,603.49 162.86,603.52 163.53,603.55 164.19,603.58 164.86,603.61 165.52,603.64 166.19,603.66 166.86,603.69 167.52,603.71 168.19,603.74 168.85,603.76 169.52,603.78 170.19,603.81 170.85,603.83 171.52,603.85 172.18,603.87 172.85,603.89 173.52,603.91 174.18,603.92 174.85,603.94 175.51,603.96 176.18,603.98 176.85,603.99 177.51,604.01 178.18,604.02 178.84,604.04 179.51,604.05 180.18,604.07 180.84,604.08 181.51,604.09 182.17,604.11 182.84,604.12 183.51,604.13 184.17,604.14 184.84,604.16 185.50,604.17 186.17,604.18 186.84,604.19 187.50,604.20 188.17,604.21 188.83,604.22 189.50,604.23 190.17,604.24 190.83,604.25 191.50,604.26 192.16,604.26 192.83,604.27 193.50,604.28 194.16,604.29 194.83,604.30 195.49,604.30 196.16,604.31 196.83,604.32 197.49,604.33 198.16,604.33 198.82,604.34 199.49,604.35 200.16,604.35 200.82,604.36 201.49,604.36 202.15,604.37 202.82,604.38 203.49,604.38 204.15,604.39 204.82,604.39 205.48,604.40 206.15,604.40 206.82,604.41 207.48,604.41 208.15,604.42 208.81,604.42 209.48,604.43 210.15,604.43 210.81,604.44 211.48,604.44 212.14,604.44 212.81,604.45 213.48,604.45 214.14,604.46 214.81,604.46 215.47,604.46 216.14,604.47 216.81,604.47 217.47,604.47 218.14,604.48 218.80,604.48 219.47,604.48 220.14,604.49 220.80,604.49 221.47,604.49 222.13,604.50 222.80,604.50" fill="none" stroke="#000" stroke-width="2.3" stroke-linejoin="round"/>
<polyline points="56.30,466.69 56.97,466.69 57.63,466.69 58.30,466.69 58.96,466.69 59.63,466.69 60.30,466.69 60.96,466.69 61.63,466.70 62.29,466.70 62.96,466.71 63.63,466.72 64.29,466.73 64.96,466.75 65.62,466.77 66.29,466.81 66.96,466.85 67.62,466.91 68.29,466.98 68.95,467.06 69.62,467.17 70.29,467.30 70.95,467.46 71.62,467.65 72.28,467.88 72.95,468.15 73.62,468.46 74.28,468.82 74.95,469.24 75.61,469.71 76.28,470.26 76.95,470.87 77.61,471.57 78.28,472.34 78.94,473.21 79.61,474.17 80.28,475.23 80.94,476.40 81.61,477.67 82.27,479.06 82.94,480.56 83.61,482.18 84.27,483.91 84.94,485.77 85.60,487.73 86.27,489.82 86.94,492.01 87.60,494.31 88.27,496.71 88.93,499.20 89.60,501.78 90.27,504.43 90.93,507.15 91.60,509.92 92.26,512.74 92.93,515.60 93.60,518.48 94.26,521.37 94.93,524.27 95.59,527.15 96.26,530.02 96.93,532.86 97.59,535.66 98.26,538.42 98.92,541.12 99.59,543.77 100.26,546.35 100.92,548.87 101.59,551.31 102.25,553.68 102.92,555.97 103.59,558.18 104.25,560.31 104.92,562.35 105.58,564.32 106.25,566.21 106.92,568.02 107.58,569.75 108.25,571.40 108.91,572.98 109.58,574.49 110.25,575.93 110.91,577.30 111.58,578.60 112.24,579.84 112.91,581.02 113.58,582.15 114.24,583.21 114.91,584.23 115.57,585.19 116.24,586.10 116.91,586.97 117.57,587.80 118.24,588.58 118.90,589.32 119.57,590.03 120.24,590.70 120.90,591.33 121.57,591.94 122.23,592.51 122.90,593.05 123.57,593.57 124.23,594.06 124.90,594.53 125.56,594.97 126.23,595.39 126.90,595.79 127.56,596.17 128.23,596.53 128.89,596.88 129.56,597.21 130.23,597.52 130.89,597.81 131.56,598.10 132.22,598.36 132.89,598.62 133.56,598.86 134.22,599.10 134.89,599.32 135.55,599.53 136.22,599.73 136.89,599.92 137.55,600.11 138.22,600.28 138.88,600.45 139.55,600.61 140.22,600.76 140.88,600.91 141.55,601.05 142.21,601.18 142.88,601.31 143.55,601.43 144.21,601.55 144.88,601.66 145.54,601.77 146.21,601.87 146.88,601.97 147.54,602.06 148.21,602.15 148.87,602.24 149.54,602.32 150.21,602.40 150.87,602.47 151.54,602.55 152.20,602.62 152.87,602.69 153.54,602.75 154.20,602.81 154.87,602.87 155.53,602.93 156.20,602.99 156.87,603.04 157.53,603.09 158.20,603.14 158.86,603.19 159.53,603.23 160.20,603.27 160.86,603.32 161.53,603.36 162.19,603.40 162.86,603.43 163.53,603.47 164.19,603.51 164.86,603.54 165.52,603.57 166.19,603.60 166.86,603.63 167.52,603.66 168.19,603.69 168.85,603.72 169.52,603.74 170.19,603.77 170.85,603.79 171.52,603.82 172.18,603.84 172.85,603.86 173.52,603.89 174.18,603.91 174.85,603.93 175.51,603.95 176.18,603.96 176.85,603.98 177.51,604.00 178.18,604.02 178.84,604.03 179.51,604.05 180.18,604.06 180.84,604.08 181.51,604.09 182.17,604.11 182.84,604.12 183.51,604.13 184.17,604.15 184.84,604.16 185.50,604.17 186.17,604.18 186.84,604.19 187.50,604.20 188.17,604.22 188.83,604.23 189.50,604.24 190.17,604.25 190.83,604.25 191.50,604.26 192.16,604.27 192.83,604.28 193.50,604.29 194.16,604.30 194.83,604.31 195.49,604.31 196.16,604.32 196.83,604.33 197.49,604.33 198.16,604.34 198.82,604.35 199.49,604.35 200.16,604.36 200.82,604.37 201.49,604.37 202.15,604.38 202.82,604.38 203.49,604.39 204.15,604.40 204.82,604.40 205.48,604.41 206.15,604.41 206.82,604.42 207.48,604.42 208.15,604.42 208.81,604.43 209.48,604.43 210.15,604.44 210.81,604.44 211.48,604.45 212.14,604.45 212.81,604.45 213.48,604.46 214.14,604.46 214.81,604.46 215.47,604.47 216.14,604.47 216.81,604.47 217.47,604.48 218.14,604.48 218.80,604.48 219.47,604.49 220.14,604.49 220.80,604.49 221.47,604.49 222.13,604.50 222.80,604.50" fill="none" stroke="#000" stroke-width="2.3" stroke-linejoin="round"/>
<polyline points="56.30,462.52 56.97,462.52 57.63,462.52 58.30,462.52 58.96,462.52 59.63,462.52 60.30,462.52 60.96,462.52 61.63,462.52 62.29,462.52 62.96,462.52 63.63,462.52 64.29,462.53 64.96,462.53 65.62,462.54 66.29,462.56 66.96,462.57 67.62,462.59 68.29,462.62 68.95,462.66 69.62,462.71 70.29,462.77 70.95,462.84 71.62,462.93 72.28,463.04 72.95,463.17 73.62,463.32 74.28,463.51 74.95,463.73 75.61,463.98 76.28,464.28 76.95,464.62 77.61,465.01 78.28,465.47 78.94,465.98 79.61,466.56 80.28,467.22 80.94,467.95 81.61,468.77 82.27,469.68 82.94,470.69 83.61,471.80 84.27,473.02 84.94,474.35 85.60,475.80 86.27,477.37 86.94,479.05 87.60,480.86 88.27,482.79 88.93,484.84 89.60,487.02 90.27,489.30 90.93,491.70 91.60,494.21 92.26,496.81 92.93,499.50 93.60,502.28 94.26,505.12 94.93,508.03 95.59,510.99 96.26,513.98 96.93,517.00 97.59,520.04 98.26,523.07 98.92,526.10 99.59,529.11 100.26,532.08 100.92,535.02 101.59,537.91 102.25,540.74 102.92,543.51 103.59,546.21 104.25,548.84 104.92,551.39 105.58,553.85 106.25,556.23 106.92,558.53 107.58,560.74 108.25,562.86 108.91,564.90 109.58,566.85 110.25,568.71 110.91,570.49 111.58,572.19 112.24,573.81 112.91,575.35 113.58,576.81 114.24,578.21 114.91,579.53 115.57,580.79 116.24,581.98 116.91,583.11 117.57,584.19 118.24,585.20 118.90,586.17 119.57,587.08 120.24,587.95 120.90,588.77 121.57,589.54 122.23,590.28 122.90,590.97 123.57,591.63 124.23,592.26 124.90,592.85 125.56,593.41 126.23,593.94 126.90,594.44 127.56,594.92 128.23,595.37 128.89,595.80 129.56,596.20 130.23,596.59 130.89,596.95 131.56,597.30 132.22,597.63 132.89,597.94 133.56,598.23 134.22,598.52 134.89,598.78 135.55,599.04 136.22,599.28 136.89,599.51 137.55,599.72 138.22,599.93 138.88,600.13 139.55,600.31 140.22,600.49 140.88,600.66 141.55,600.82 142.21,600.98 142.88,601.13 143.55,601.27 144.21,601.40 144.88,601.53 145.54,601.65 146.21,601.76 146.88,601.87 147.54,601.98 148.21,602.08 148.87,602.18 149.54,602.27 150.21,602.36 150.87,602.44 151.54,602.52 152.20,602.60 152.87,602.67 153.54,602.74 154.20,602.81 154.87,602.87 155.53,602.94 156.20,603.00 156.87,603.05 157.53,603.11 158.20,603.16 158.86,603.21 159.53,603.26 160.20,603.30 160.86,603.35 161.53,603.39 162.19,603.43 162.86,603.47 163.53,603.51 164.19,603.54 164.86,603.58 165.52,603.61 166.19,603.64 166.86,603.68 167.52,603.71 168.19,603.73 168.85,603.76 169.52,603.79 170.19,603.81 170.85,603.84 171.52,603.86 172.18,603.88 172.85,603.91 173.52,603.93 174.18,603.95 174.85,603.97 175.51,603.99 176.18,604.01 176.85,604.02 177.51,604.04 178.18,604.06 178.84,604.07 179.51,604.09 180.18,604.10 180.84,604.12 181.51,604.13 182.17,604.14 182.84,604.16 183.51,604.17 184.17,604.18 184.84,604.19 185.50,604.20 186.17,604.22 186.84,604.23 187.50,604.24 188.17,604.25 188.83,604.26 189.50,604.27 190.17,604.27 190.83,604.28 191.50,604.29 192.16,604.30 192.83,604.31 193.50,604.32 194.16,604.32 194.83,604.33 195.49,604.34 196.16,604.34 196.83,604.35 197.49,604.36 198.16,604.36 198.82,604.37 199.49,604.37 200.16,604.38 200.82,604.39 201.49,604.39 202.15,604.40 202.82,604.40 203.49,604.41 204.15,604.41 204.82,604.41 205.48,604.42 206.15,604.42 206.82,604.43 207.48,604.43 208.15,604.44 208.81,604.44 209.48,604.44 210.15,604.45 210.81,604.45 211.48,604.45 212.14,604.46 212.81,604.46 213.48,604.46 214.14,604.47 214.81,604.47 215.47,604.47 216.14,604.48 216.81,604.48 217.47,604.48 218.14,604.48 218.80,604.49 219.47,604.49 220.14,604.49 220.80,604.49 221.47,604.50 222.13,604.50 222.80,604.50" fill="none" stroke="#000" stroke-width="2.3" stroke-linejoin="round"/>
<polyline points="56.30,465.30 56.97,465.30 57.63,465.30 58.30,465.30 58.96,465.30 59.63,465.30 60.30,465.30 60.96,465.30 61.63,465.30 62.29,465.30 62.96,465.31 63.63,465.31 64.29,465.32 64.96,465.33 65.62,465.34 66.29,465.36 66.96,465.38 67.62,465.41 68.29,465.44 68.95,465.48 69.62,465.54 70.29,465.60 70.95,465.68 71.62,465.78 72.28,465.89 72.95,466.03 73.62,466.18 74.28,466.36 74.95,466.57 75.61,466.81 76.28,467.09 76.95,467.40 77.61,467.76 78.28,468.16 78.94,468.61 79.61,469.11 80.28,469.67 80.94,470.29 81.61,470.97 82.27,471.72 82.94,472.55 83.61,473.44 84.27,474.42 84.94,475.47 85.60,476.61 86.27,477.83 86.94,479.15 87.60,480.55 88.27,482.04 88.93,483.61 89.60,485.28 90.27,487.04 90.93,488.88 91.60,490.80 92.26,492.81 92.93,494.89 93.60,497.05 94.26,499.27 94.93,501.55 95.59,503.89 96.26,506.28 96.93,508.71 97.59,511.18 98.26,513.68 98.92,516.19 99.59,518.72 100.26,521.26 100.92,523.80 101.59,526.33 102.25,528.84 102.92,531.34 103.59,533.81 104.25,536.25 104.92,538.65 105.58,541.01 106.25,543.33 106.92,545.59 107.58,547.81 108.25,549.97 108.91,552.07 109.58,554.12 110.25,556.10 110.91,558.03 111.58,559.89 112.24,561.70 112.91,563.44 113.58,565.12 114.24,566.74 114.91,568.30 115.57,569.80 116.24,571.24 116.91,572.63 117.57,573.96 118.24,575.24 118.90,576.46 119.57,577.64 120.24,578.76 120.90,579.84 121.57,580.87 122.23,581.86 122.90,582.81 123.57,583.71 124.23,584.58 124.90,585.41 125.56,586.20 126.23,586.95 126.90,587.68 127.56,588.37 128.23,589.03 128.89,589.66 129.56,590.27 130.23,590.84 130.89,591.40 131.56,591.92 132.22,592.43 132.89,592.91 133.56,593.37 134.22,593.81 134.89,594.23 135.55,594.64 136.22,595.02 136.89,595.39 137.55,595.75 138.22,596.09 138.88,596.41 139.55,596.72 140.22,597.02 140.88,597.30 141.55,597.57 142.21,597.83 142.88,598.08 143.55,598.32 144.21,598.55 144.88,598.77 145.54,598.98 146.21,599.19 146.88,599.38 147.54,599.57 148.21,599.75 148.87,599.92 149.54,600.08 150.21,600.24 150.87,600.39 151.54,600.54 152.20,600.68 152.87,600.82 153.54,600.95 154.20,601.07 154.87,601.19 155.53,601.31 156.20,601.42 156.87,601.52 157.53,601.63 158.20,601.73 158.86,601.82 159.53,601.91 160.20,602.00 160.86,602.09 161.53,602.17 162.19,602.25 162.86,602.32 163.53,602.40 164.19,602.47 164.86,602.54 165.52,602.60 166.19,602.67 166.86,602.73 167.52,602.79 168.19,602.85 168.85,602.90 169.52,602.95 170.19,603.01 170.85,603.06 171.52,603.10 172.18,603.15 172.85,603.20 173.52,603.24 174.18,603.28 174.85,603.32 175.51,603.36 176.18,603.40 176.85,603.44 177.51,603.47 178.18,603.51 178.84,603.54 179.51,603.57 180.18,603.61 180.84,603.64 181.51,603.67 182.17,603.69 182.84,603.72 183.51,603.75 184.17,603.77 184.84,603.80 185.50,603.82 186.17,603.85 186.84,603.87 187.50,603.89 188.17,603.92 188.83,603.94 189.50,603.96 190.17,603.98 190.83,604.00 191.50,604.01 192.16,604.03 192.83,604.05 193.50,604.07 194.16,604.08 194.83,604.10 195.49,604.12 196.16,604.13 196.83,604.15 197.49,604.16 198.16,604.17 198.82,604.19 199.49,604.20 200.16,604.21 200.82,604.23 201.49,604.24 202.15,604.25 202.82,604.26 203.49,604.27 204.15,604.28 204.82,604.30 205.48,604.31 206.15,604.32 206.82,604.33 207.48,604.34 208.15,604.34 208.81,604.35 209.48,604.36 210.15,604.37 210.81,604.38 211.48,604.39 212.14,604.40 212.81,604.40 213.48,604.41 214.14,604.42 214.81,604.43 215.47,604.43 216.14,604.44 216.81,604.45 217.47,604.45 218.14,604.46 218.80,604.47 219.47,604.47 220.14,604.48 220.80,604.48 221.47,604.49 222.13,604.49 222.80,604.50" fill="none" stroke="#000" stroke-width="2.3" stroke-linejoin="round"/>
<polyline points="56.30,466.69 56.97,466.69 57.63,466.69 58.30,466.69 58.96,466.69 59.63,466.69 60.30,466.69 60.96,466.69 61.63,466.69 62.29,466.70 62.96,466.70 63.63,466.70 64.29,466.71 64.96,466.71 65.62,466.72 66.29,466.73 66.96,466.75 67.62,466.77 68.29,466.80 68.95,466.83 69.62,466.87 70.29,466.92 70.95,466.98 71.62,467.05 72.28,467.14 72.95,467.24 73.62,467.36 74.28,467.50 74.95,467.65 75.61,467.84 76.28,468.05 76.95,468.29 77.61,468.56 78.28,468.86 78.94,469.20 79.61,469.59 80.28,470.02 80.94,470.49 81.61,471.01 82.27,471.59 82.94,472.23 83.61,472.92 84.27,473.68 84.94,474.50 85.60,475.39 86.27,476.36 86.94,477.39 87.60,478.50 88.27,479.69 88.93,480.96 89.60,482.30 90.27,483.73 90.93,485.23 91.60,486.81 92.26,488.47 92.93,490.21 93.60,492.02 94.26,493.90 94.93,495.85 95.59,497.87 96.26,499.94 96.93,502.07 97.59,504.26 98.26,506.48 98.92,508.75 99.59,511.05 100.26,513.38 100.92,515.73 101.59,518.10 102.25,520.48 102.92,522.86 103.59,525.24 104.25,527.61 104.92,529.97 105.58,532.31 106.25,534.62 106.92,536.91 107.58,539.16 108.25,541.38 108.91,543.56 109.58,545.70 110.25,547.79 110.91,549.83 111.58,551.83 112.24,553.77 112.91,555.66 113.58,557.49 114.24,559.28 114.91,561.00 115.57,562.68 116.24,564.30 116.91,565.86 117.57,567.37 118.24,568.83 118.90,570.24 119.57,571.59 120.24,572.89 120.90,574.15 121.57,575.36 122.23,576.52 122.90,577.63 123.57,578.70 124.23,579.73 124.90,580.72 125.56,581.66 126.23,582.57 126.90,583.44 127.56,584.28 128.23,585.08 128.89,585.85 129.56,586.58 130.23,587.29 130.89,587.96 131.56,588.61 132.22,589.23 132.89,589.83 133.56,590.40 134.22,590.94 134.89,591.47 135.55,591.97 136.22,592.45 136.89,592.91 137.55,593.35 138.22,593.77 138.88,594.18 139.55,594.57 140.22,594.94 140.88,595.30 141.55,595.64 142.21,595.97 142.88,596.28 143.55,596.59 144.21,596.88 144.88,597.16 145.54,597.42 146.21,597.68 146.88,597.93 147.54,598.16 148.21,598.39 148.87,598.61 149.54,598.82 150.21,599.02 150.87,599.22 151.54,599.40 152.20,599.58 152.87,599.75 153.54,599.92 154.20,600.08 154.87,600.23 155.53,600.38 156.20,600.52 156.87,600.66 157.53,600.79 158.20,600.92 158.86,601.04 159.53,601.16 160.20,601.27 160.86,601.38 161.53,601.49 162.19,601.59 162.86,601.69 163.53,601.78 164.19,601.87 164.86,601.96 165.52,602.05 166.19,602.13 166.86,602.21 167.52,602.29 168.19,602.36 168.85,602.43 169.52,602.50 170.19,602.57 170.85,602.63 171.52,602.69 172.18,602.75 172.85,602.81 173.52,602.87 174.18,602.92 174.85,602.98 175.51,603.03 176.18,603.08 176.85,603.12 177.51,603.17 178.18,603.21 178.84,603.26 179.51,603.30 180.18,603.34 180.84,603.38 181.51,603.42 182.17,603.45 182.84,603.49 183.51,603.53 184.17,603.56 184.84,603.59 185.50,603.62 186.17,603.65 186.84,603.68 187.50,603.71 188.17,603.74 188.83,603.77 189.50,603.80 190.17,603.82 190.83,603.85 191.50,603.87 192.16,603.89 192.83,603.92 193.50,603.94 194.16,603.96 194.83,603.98 195.49,604.00 196.16,604.02 196.83,604.04 197.49,604.06 198.16,604.08 198.82,604.10 199.49,604.11 200.16,604.13 200.82,604.15 201.49,604.16 202.15,604.18 202.82,604.19 203.49,604.21 204.15,604.22 204.82,604.23 205.48,604.25 206.15,604.26 206.82,604.27 207.48,604.29 208.15,604.30 208.81,604.31 209.48,604.32 210.15,604.33 210.81,604.34 211.48,604.35 212.14,604.36 212.81,604.37 213.48,604.38 214.14,604.39 214.81,604.40 215.47,604.41 216.14,604.42 216.81,604.43 217.47,604.44 218.14,604.45 218.80,604.46 219.47,604.46 220.14,604.47 220.80,604.48 221.47,604.49 222.13,604.49 222.80,604.50" fill="none" stroke="#000" stroke-width="2.3" stroke-linejoin="round"/>
<polyline points="56.30,463.91 56.97,463.91 57.63,463.91 58.30,463.91 58.96,463.91 59.63,463.91 60.30,463.91 60.96,463.91 61.63,463.91 62.29,463.92 62.96,463.92 63.63,463.93 64.29,463.94 64.96,463.95 65.62,463.96 66.29,463.98 66.96,464.01 67.62,464.04 68.29,464.08 68.95,464.13 69.62,464.18 70.29,464.25 70.95,464.33 71.62,464.42 72.28,464.53 72.95,464.66 73.62,464.80 74.28,464.97 74.95,465.15 75.61,465.36 76.28,465.60 76.95,465.87 77.61,466.16 78.28,466.49 78.94,466.85 79.61,467.25 80.28,467.69 80.94,468.18 81.61,468.70 82.27,469.27 82.94,469.89 83.61,470.56 84.27,471.29 84.94,472.06 85.60,472.90 86.27,473.79 86.94,474.73 87.60,475.74 88.27,476.81 88.93,477.94 89.60,479.13 90.27,480.39 90.93,481.70 91.60,483.08 92.26,484.51 92.93,486.01 93.60,487.57 94.26,489.18 94.93,490.84 95.59,492.56 96.26,494.33 96.93,496.14 97.59,498.00 98.26,499.89 98.92,501.83 99.59,503.80 100.26,505.79 100.92,507.81 101.59,509.86 102.25,511.92 102.92,513.99 103.59,516.08 104.25,518.16 104.92,520.25 105.58,522.34 106.25,524.42 106.92,526.50 107.58,528.55 108.25,530.60 108.91,532.62 109.58,534.62 110.25,536.60 110.91,538.55 111.58,540.46 112.24,542.35 112.91,544.21 113.58,546.03 114.24,547.81 114.91,549.56 115.57,551.27 116.24,552.93 116.91,554.56 117.57,556.15 118.24,557.70 118.90,559.21 119.57,560.68 120.24,562.10 120.90,563.49 121.57,564.84 122.23,566.15 122.90,567.41 123.57,568.64 124.23,569.84 124.90,570.99 125.56,572.11 126.23,573.19 126.90,574.24 127.56,575.25 128.23,576.23 128.89,577.18 129.56,578.09 130.23,578.98 130.89,579.83 131.56,580.66 132.22,581.45 132.89,582.22 133.56,582.97 134.22,583.68 134.89,584.38 135.55,585.05 136.22,585.69 136.89,586.32 137.55,586.92 138.22,587.50 138.88,588.06 139.55,588.60 140.22,589.12 140.88,589.62 141.55,590.11 142.21,590.58 142.88,591.03 143.55,591.47 144.21,591.89 144.88,592.30 145.54,592.69 146.21,593.07 146.88,593.44 147.54,593.79 148.21,594.14 148.87,594.47 149.54,594.79 150.21,595.09 150.87,595.39 151.54,595.68 152.20,595.96 152.87,596.23 153.54,596.49 154.20,596.74 154.87,596.98 155.53,597.22 156.20,597.44 156.87,597.66 157.53,597.88 158.20,598.08 158.86,598.28 159.53,598.47 160.20,598.66 160.86,598.84 161.53,599.02 162.19,599.18 162.86,599.35 163.53,599.51 164.19,599.66 164.86,599.81 165.52,599.95 166.19,600.09 166.86,600.23 167.52,600.36 168.19,600.49 168.85,600.61 169.52,600.73 170.19,600.85 170.85,600.96 171.52,601.07 172.18,601.17 172.85,601.28 173.52,601.38 174.18,601.47 174.85,601.57 175.51,601.66 176.18,601.75 176.85,601.83 177.51,601.92 178.18,602.00 178.84,602.08 179.51,602.15 180.18,602.23 180.84,602.30 181.51,602.37 182.17,602.44 182.84,602.51 183.51,602.57 184.17,602.63 184.84,602.70 185.50,602.76 186.17,602.81 186.84,602.87 187.50,602.92 188.17,602.98 188.83,603.03 189.50,603.08 190.17,603.13 190.83,603.18 191.50,603.22 192.16,603.27 192.83,603.31 193.50,603.36 194.16,603.40 194.83,603.44 195.49,603.48 196.16,603.52 196.83,603.56 197.49,603.59 198.16,603.63 198.82,603.67 199.49,603.70 200.16,603.73 200.82,603.77 201.49,603.80 202.15,603.83 202.82,603.86 203.49,603.89 204.15,603.92 204.82,603.94 205.48,603.97 206.15,604.00 206.82,604.03 207.48,604.05 208.15,604.08 208.81,604.10 209.48,604.12 210.15,604.15 210.81,604.17 211.48,604.19 212.14,604.21 212.81,604.23 213.48,604.25 214.14,604.28 214.81,604.29 215.47,604.31 216.14,604.33 216.81,604.35 217.47,604.37 218.14,604.39 218.80,604.40 219.47,604.42 220.14,604.44 220.80,604.45 221.47,604.47 222.13,604.48 222.80,604.50" fill="none" stroke="#000" stroke-width="2.3" stroke-linejoin="round"/>
<polyline points="56.30,462.52 56.97,462.52 57.63,462.52 58.30,462.52 58.96,462.52 59.63,462.52 60.30,462.52 60.96,462.52 61.63,462.52 62.29,462.53 62.96,462.53 63.63,462.54 64.29,462.55 64.96,462.57 65.62,462.59 66.29,462.61 66.96,462.64 67.62,462.68 68.29,462.73 68.95,462.78 69.62,462.84 70.29,462.92 70.95,463.01 71.62,463.11 72.28,463.22 72.95,463.35 73.62,463.50 74.28,463.67 74.95,463.86 75.61,464.07 76.28,464.30 76.95,464.56 77.61,464.85 78.28,465.16 78.94,465.51 79.61,465.89 80.28,466.30 80.94,466.75 81.61,467.24 82.27,467.76 82.94,468.32 83.61,468.93 84.27,469.58 84.94,470.27 85.60,471.01 86.27,471.80 86.94,472.64 87.60,473.52 88.27,474.45 88.93,475.43 89.60,476.47 90.27,477.55 90.93,478.68 91.60,479.87 92.26,481.10 92.93,482.38 93.60,483.71 94.26,485.09 94.93,486.52 95.59,487.99 96.26,489.50 96.93,491.05 97.59,492.65 98.26,494.28 98.92,495.94 99.59,497.64 100.26,499.37 100.92,501.13 101.59,502.91 102.25,504.71 102.92,506.54 103.59,508.37 104.25,510.23 104.92,512.09 105.58,513.96 106.25,515.83 106.92,517.71 107.58,519.59 108.25,521.46 108.91,523.33 109.58,525.19 110.25,527.03 110.91,528.87 111.58,530.69 112.24,532.49 112.91,534.27 113.58,536.03 114.24,537.77 114.91,539.49 115.57,541.18 116.24,542.84 116.91,544.48 117.57,546.09 118.24,547.67 118.90,549.22 119.57,550.73 120.24,552.22 120.90,553.68 121.57,555.10 122.23,556.49 122.90,557.85 123.57,559.18 124.23,560.48 124.90,561.74 125.56,562.98 126.23,564.18 126.90,565.35 127.56,566.49 128.23,567.60 128.89,568.68 129.56,569.73 130.23,570.75 130.89,571.74 131.56,572.70 132.22,573.64 132.89,574.55 133.56,575.44 134.22,576.30 134.89,577.13 135.55,577.94 136.22,578.72 136.89,579.49 137.55,580.23 138.22,580.94 138.88,581.64 139.55,582.32 140.22,582.97 140.88,583.61 141.55,584.22 142.21,584.82 142.88,585.40 143.55,585.96 144.21,586.51 144.88,587.04 145.54,587.55 146.21,588.04 146.88,588.53 147.54,588.99 148.21,589.45 148.87,589.89 149.54,590.31 150.21,590.73 150.87,591.13 151.54,591.52 152.20,591.89 152.87,592.26 153.54,592.62 154.20,592.96 154.87,593.29 155.53,593.62 156.20,593.93 156.87,594.24 157.53,594.54 158.20,594.82 158.86,595.10 159.53,595.37 160.20,595.64 160.86,595.89 161.53,596.14 162.19,596.38 162.86,596.62 163.53,596.84 164.19,597.07 164.86,597.28 165.52,597.49 166.19,597.69 166.86,597.89 167.52,598.08 168.19,598.27 168.85,598.45 169.52,598.62 170.19,598.79 170.85,598.96 171.52,599.12 172.18,599.28 172.85,599.43 173.52,599.58 174.18,599.73 174.85,599.87 175.51,600.01 176.18,600.14 176.85,600.27 177.51,600.40 178.18,600.52 178.84,600.64 179.51,600.76 180.18,600.87 180.84,600.98 181.51,601.09 182.17,601.19 182.84,601.30 183.51,601.40 184.17,601.49 184.84,601.59 185.50,601.68 186.17,601.77 186.84,601.86 187.50,601.94 188.17,602.03 188.83,602.11 189.50,602.19 190.17,602.27 190.83,602.34 191.50,602.42 192.16,602.49 192.83,602.56 193.50,602.63 194.16,602.69 194.83,602.76 195.49,602.82 196.16,602.88 196.83,602.95 197.49,603.01 198.16,603.06 198.82,603.12 199.49,603.17 200.16,603.23 200.82,603.28 201.49,603.33 202.15,603.38 202.82,603.43 203.49,603.48 204.15,603.53 204.82,603.57 205.48,603.62 206.15,603.66 206.82,603.71 207.48,603.75 208.15,603.79 208.81,603.83 209.48,603.87 210.15,603.91 210.81,603.94 211.48,603.98 212.14,604.02 212.81,604.05 213.48,604.09 214.14,604.12 214.81,604.15 215.47,604.19 216.14,604.22 216.81,604.25 217.47,604.28 218.14,604.31 218.80,604.34 219.47,604.37 220.14,604.39 220.80,604.42 221.47,604.45 222.13,604.47 222.80,604.50" fill="none" stroke="#000" stroke-width="2.3" stroke-linejoin="round"/>
<polyline points="56.30,461.12 56.97,461.12 57.63,461.12 58.30,461.12 58.96,461.12 59.63,461.12 60.30,461.12 60.96,461.12 61.63,461.12 62.29,461.13 62.96,461.13 63.63,461.13 64.29,461.13 64.96,461.13 65.62,461.13 66.29,461.14 66.96,461.14 67.62,461.15 68.29,461.16 68.95,461.17 69.62,461.18 70.29,461.19 70.95,461.20 71.62,461.22 72.28,461.24 72.95,461.27 73.62,461.30 74.28,461.33 74.95,461.37 75.61,461.41 76.28,461.46 76.95,461.51 77.61,461.58 78.28,461.64 78.94,461.72 79.61,461.80 80.28,461.90 80.94,462.00 81.61,462.12 82.27,462.24 82.94,462.38 83.61,462.53 84.27,462.69 84.94,462.87 85.60,463.06 86.27,463.26 86.94,463.49 87.60,463.73 88.27,463.99 88.93,464.27 89.60,464.57 90.27,464.89 90.93,465.23 91.60,465.59 92.26,465.98 92.93,466.39 93.60,466.83 94.26,467.30 94.93,467.79 95.59,468.31 96.26,468.85 96.93,469.43 97.59,470.03 98.26,470.67 98.92,471.34 99.59,472.04 100.26,472.77 100.92,473.53 101.59,474.33 102.25,475.16 102.92,476.02 103.59,476.92 104.25,477.85 104.92,478.81 105.58,479.81 106.25,480.84 106.92,481.90 107.58,483.00 108.25,484.13 108.91,485.29 109.58,486.48 110.25,487.70 110.91,488.95 111.58,490.23 112.24,491.54 112.91,492.87 113.58,494.23 114.24,495.62 114.91,497.02 115.57,498.45 116.24,499.90 116.91,501.37 117.57,502.86 118.24,504.36 118.90,505.88 119.57,507.41 120.24,508.95 120.90,510.50 121.57,512.06 122.23,513.62 122.90,515.19 123.57,516.77 124.23,518.34 124.90,519.92 125.56,521.49 126.23,523.06 126.90,524.63 127.56,526.20 128.23,527.75 128.89,529.30 129.56,530.84 130.23,532.36 130.89,533.88 131.56,535.38 132.22,536.87 132.89,538.35 133.56,539.80 134.22,541.25 134.89,542.67 135.55,544.08 136.22,545.46 136.89,546.83 137.55,548.18 138.22,549.51 138.88,550.82 139.55,552.11 140.22,553.37 140.88,554.61 141.55,555.84 142.21,557.04 142.88,558.21 143.55,559.37 144.21,560.50 144.88,561.61 145.54,562.70 146.21,563.77 146.88,564.81 147.54,565.84 148.21,566.84 148.87,567.82 149.54,568.77 150.21,569.71 150.87,570.63 151.54,571.52 152.20,572.40 152.87,573.25 153.54,574.08 154.20,574.90 154.87,575.69 155.53,576.47 156.20,577.23 156.87,577.97 157.53,578.69 158.20,579.39 158.86,580.08 159.53,580.75 160.20,581.40 160.86,582.04 161.53,582.66 162.19,583.27 162.86,583.86 163.53,584.43 164.19,584.99 164.86,585.54 165.52,586.07 166.19,586.59 166.86,587.10 167.52,587.59 168.19,588.07 168.85,588.54 169.52,589.00 170.19,589.44 170.85,589.88 171.52,590.30 172.18,590.71 172.85,591.11 173.52,591.50 174.18,591.88 174.85,592.25 175.51,592.61 176.18,592.97 176.85,593.31 177.51,593.64 178.18,593.97 178.84,594.29 179.51,594.60 180.18,594.90 180.84,595.19 181.51,595.48 182.17,595.76 182.84,596.03 183.51,596.30 184.17,596.56 184.84,596.81 185.50,597.06 186.17,597.30 186.84,597.53 187.50,597.76 188.17,597.98 188.83,598.20 189.50,598.41 190.17,598.62 190.83,598.82 191.50,599.01 192.16,599.21 192.83,599.39 193.50,599.57 194.16,599.75 194.83,599.93 195.49,600.10 196.16,600.26 196.83,600.42 197.49,600.58 198.16,600.73 198.82,600.88 199.49,601.03 200.16,601.17 200.82,601.31 201.49,601.45 202.15,601.58 202.82,601.71 203.49,601.84 204.15,601.96 204.82,602.09 205.48,602.20 206.15,602.32 206.82,602.43 207.48,602.54 208.15,602.65 208.81,602.76 209.48,602.86 210.15,602.96 210.81,603.06 211.48,603.15 212.14,603.25 212.81,603.34 213.48,603.43 214.14,603.52 214.81,603.60 215.47,603.69 216.14,603.77 216.81,603.85 217.47,603.93 218.14,604.01 218.80,604.08 219.47,604.15 220.14,604.23 220.80,604.30 221.47,604.37 222.13,604.43 222.80,604.50" fill="none" stroke="#000" stroke-width="2.3" stroke-linejoin="round"/>
<polyline points="56.30,465.30 56.97,465.30 57.63,465.30 58.30,465.30 58.96,465.30 59.63,465.30 60.30,465.30 60.96,465.30 61.63,465.30 62.29,465.30 62.96,465.30 63.63,465.30 64.29,465.30 64.96,465.30 65.62,465.30 66.29,465.31 66.96,465.31 67.62,465.31 68.29,465.32 68.95,465.32 69.62,465.33 70.29,465.33 70.95,465.34 71.62,465.35 72.28,465.36 72.95,465.37 73.62,465.39 74.28,465.41 74.95,465.43 75.61,465.45 76.28,465.48 76.95,465.51 77.61,465.54 78.28,465.58 78.94,465.62 79.61,465.67 80.28,465.72 80.94,465.78 81.61,465.85 82.27,465.92 82.94,466.00 83.61,466.09 84.27,466.19 84.94,466.29 85.60,466.41 86.27,466.53 86.94,466.67 87.60,466.82 88.27,466.98 88.93,467.15 89.60,467.33 90.27,467.53 90.93,467.75 91.60,467.98 92.26,468.22 92.93,468.49 93.60,468.77 94.26,469.07 94.93,469.39 95.59,469.72 96.26,470.08 96.93,470.46 97.59,470.87 98.26,471.29 98.92,471.74 99.59,472.22 100.26,472.72 100.92,473.24 101.59,473.79 102.25,474.37 102.92,474.97 103.59,475.61 104.25,476.27 104.92,476.96 105.58,477.67 106.25,478.42 106.92,479.20 107.58,480.01 108.25,480.85 108.91,481.72 109.58,482.61 110.25,483.54 110.91,484.50 111.58,485.49 112.24,486.51 112.91,487.55 113.58,488.63 114.24,489.74 114.91,490.87 115.57,492.03 116.24,493.21 116.91,494.42 117.57,495.66 118.24,496.92 118.90,498.21 119.57,499.51 120.24,500.84 120.90,502.18 121.57,503.55 122.23,504.93 122.90,506.33 123.57,507.74 124.23,509.17 124.90,510.61 125.56,512.06 126.23,513.52 126.90,514.99 127.56,516.46 128.23,517.94 128.89,519.42 129.56,520.91 130.23,522.39 130.89,523.88 131.56,525.37 132.22,526.85 132.89,528.32 133.56,529.80 134.22,531.26 134.89,532.72 135.55,534.17 136.22,535.61 136.89,537.04 137.55,538.45 138.22,539.86 138.88,541.25 139.55,542.63 140.22,543.99 140.88,545.33 141.55,546.66 142.21,547.97 142.88,549.27 143.55,550.55 144.21,551.80 144.88,553.04 145.54,554.26 146.21,555.46 146.88,556.65 147.54,557.81 148.21,558.95 148.87,560.07 149.54,561.17 150.21,562.25 150.87,563.31 151.54,564.35 152.20,565.37 152.87,566.37 153.54,567.35 154.20,568.31 154.87,569.25 155.53,570.16 156.20,571.06 156.87,571.94 157.53,572.80 158.20,573.65 158.86,574.47 159.53,575.27 160.20,576.06 160.86,576.83 161.53,577.58 162.19,578.31 162.86,579.03 163.53,579.73 164.19,580.41 164.86,581.07 165.52,581.72 166.19,582.36 166.86,582.98 167.52,583.58 168.19,584.17 168.85,584.75 169.52,585.31 170.19,585.86 170.85,586.39 171.52,586.91 172.18,587.42 172.85,587.91 173.52,588.40 174.18,588.87 174.85,589.33 175.51,589.77 176.18,590.21 176.85,590.64 177.51,591.05 178.18,591.46 178.84,591.85 179.51,592.23 180.18,592.61 180.84,592.98 181.51,593.33 182.17,593.68 182.84,594.02 183.51,594.35 184.17,594.67 184.84,594.98 185.50,595.29 186.17,595.59 186.84,595.88 187.50,596.16 188.17,596.44 188.83,596.71 189.50,596.97 190.17,597.23 190.83,597.48 191.50,597.72 192.16,597.96 192.83,598.20 193.50,598.42 194.16,598.64 194.83,598.86 195.49,599.07 196.16,599.27 196.83,599.47 197.49,599.67 198.16,599.86 198.82,600.05 199.49,600.23 200.16,600.41 200.82,600.58 201.49,600.75 202.15,600.91 202.82,601.07 203.49,601.23 204.15,601.38 204.82,601.53 205.48,601.68 206.15,601.82 206.82,601.96 207.48,602.10 208.15,602.23 208.81,602.36 209.48,602.49 210.15,602.61 210.81,602.73 211.48,602.85 212.14,602.97 212.81,603.08 213.48,603.19 214.14,603.30 214.81,603.40 215.47,603.51 216.14,603.61 216.81,603.71 217.47,603.80 218.14,603.90 218.80,603.99 219.47,604.08 220.14,604.17 220.80,604.25 221.47,604.34 222.13,604.42 222.80,604.50" fill="none" stroke="#000" stroke-width="2.3" stroke-linejoin="round"/>
<polyline points="56.30,462.52 56.97,462.52 57.63,462.52 58.30,462.52 58.96,462.52 59.63,462.52 60.30,462.52 60.96,462.52 61.63,462.52 62.29,462.52 62.96,462.52 63.63,462.52 64.29,462.52 64.96,462.52 65.62,462.52 66.29,462.52 66.96,462.52 67.62,462.52 68.29,462.52 68.95,462.53 69.62,462.53 70.29,462.53 70.95,462.54 71.62,462.54 72.28,462.55 72.95,462.55 73.62,462.56 74.28,462.57 74.95,462.58 75.61,462.59 76.28,462.61 76.95,462.63 77.61,462.64 78.28,462.67 78.94,462.69 79.61,462.72 80.28,462.75 80.94,462.78 81.61,462.82 82.27,462.86 82.94,462.91 83.61,462.96 84.27,463.01 84.94,463.08 85.60,463.14 86.27,463.22 86.94,463.30 87.60,463.39 88.27,463.48 88.93,463.59 89.60,463.70 90.27,463.82 90.93,463.96 91.60,464.10 92.26,464.25 92.93,464.42 93.60,464.59 94.26,464.78 94.93,464.99 95.59,465.20 96.26,465.43 96.93,465.68 97.59,465.94 98.26,466.22 98.92,466.51 99.59,466.83 100.26,467.16 100.92,467.51 101.59,467.88 102.25,468.27 102.92,468.68 103.59,469.11 104.25,469.56 104.92,470.04 105.58,470.54 106.25,471.07 106.92,471.62 107.58,472.19 108.25,472.79 108.91,473.42 109.58,474.07 110.25,474.75 110.91,475.46 111.58,476.19 112.24,476.95 112.91,477.74 113.58,478.56 114.24,479.40 114.91,480.28 115.57,481.18 116.24,482.11 116.91,483.07 117.57,484.05 118.24,485.06 118.90,486.11 119.57,487.17 120.24,488.27 120.90,489.39 121.57,490.53 122.23,491.70 122.90,492.90 123.57,494.12 124.23,495.36 124.90,496.62 125.56,497.90 126.23,499.21 126.90,500.53 127.56,501.87 128.23,503.22 128.89,504.60 129.56,505.98 130.23,507.38 130.89,508.80 131.56,510.22 132.22,511.65 132.89,513.09 133.56,514.54 134.22,516.00 134.89,517.46 135.55,518.92 136.22,520.39 136.89,521.85 137.55,523.32 138.22,524.78 138.88,526.24 139.55,527.70 140.22,529.16 140.88,530.60 141.55,532.04 142.21,533.48 142.88,534.90 143.55,536.31 144.21,537.72 144.88,539.11 145.54,540.49 146.21,541.85 146.88,543.20 147.54,544.54 148.21,545.86 148.87,547.17 149.54,548.46 150.21,549.73 150.87,550.99 151.54,552.23 152.20,553.45 152.87,554.65 153.54,555.84 154.20,557.00 154.87,558.15 155.53,559.28 156.20,560.39 156.87,561.48 157.53,562.55 158.20,563.60 158.86,564.63 159.53,565.64 160.20,566.63 160.86,567.61 161.53,568.56 162.19,569.50 162.86,570.41 163.53,571.31 164.19,572.19 164.86,573.05 165.52,573.89 166.19,574.72 166.86,575.52 167.52,576.31 168.19,577.08 168.85,577.84 169.52,578.57 170.19,579.30 170.85,580.00 171.52,580.69 172.18,581.36 172.85,582.02 173.52,582.66 174.18,583.29 174.85,583.90 175.51,584.50 176.18,585.08 176.85,585.65 177.51,586.21 178.18,586.76 178.84,587.29 179.51,587.80 180.18,588.31 180.84,588.80 181.51,589.28 182.17,589.75 182.84,590.21 183.51,590.66 184.17,591.10 184.84,591.52 185.50,591.94 186.17,592.34 186.84,592.74 187.50,593.13 188.17,593.50 188.83,593.87 189.50,594.23 190.17,594.58 190.83,594.92 191.50,595.25 192.16,595.58 192.83,595.90 193.50,596.21 194.16,596.51 194.83,596.80 195.49,597.09 196.16,597.37 196.83,597.64 197.49,597.91 198.16,598.17 198.82,598.43 199.49,598.67 200.16,598.92 200.82,599.15 201.49,599.38 202.15,599.61 202.82,599.83 203.49,600.04 204.15,600.25 204.82,600.46 205.48,600.66 206.15,600.85 206.82,601.04 207.48,601.23 208.15,601.41 208.81,601.59 209.48,601.76 210.15,601.93 210.81,602.10 211.48,602.26 212.14,602.42 212.81,602.57 213.48,602.72 214.14,602.87 214.81,603.01 215.47,603.15 216.14,603.29 216.81,603.42 217.47,603.55 218.14,603.68 218.80,603.81 219.47,603.93 220.14,604.05 220.80,604.17 221.47,604.28 222.13,604.39 222.80,604.50" fill="none" stroke="#000" stroke-width="2.3" stroke-linejoin="round"/>
<polyline points="56.30,465.30 56.97,465.30 57.63,465.30 58.30,465.30 58.96,465.30 59.63,465.30 60.30,465.30 60.96,465.30 61.63,465.30 62.29,465.30 62.96,465.30 63.63,465.30 64.29,465.30 64.96,465.30 65.62,465.30 66.29,465.30 66.96,465.30 67.62,465.30 68.29,465.30 68.95,465.30 69.62,465.30 70.29,465.30 70.95,465.30 71.62,465.30 72.28,465.30 72.95,465.30 73.62,465.30 74.28,465.30 74.95,465.30 75.61,465.30 76.28,465.30 76.95,465.30 77.61,465.30 78.28,465.30 78.94,465.30 79.61,465.30 80.28,465.30 80.94,465.30 81.61,465.30 82.27,465.30 82.94,465.30 83.61,465.30 84.27,465.30 84.94,465.30 85.60,465.30 86.27,465.30 86.94,465.30 87.60,465.30 88.27,465.30 88.93,465.30 89.60,465.30 90.27,465.30 90.93,465.30 91.60,465.30 92.26,465.30 92.93,465.30 93.60,465.30 94.26,465.30 94.93,465.30 95.59,465.30 96.26,465.30 96.93,465.30 97.59,465.30 98.26,465.30 98.92,465.30 99.59,465.30 100.26,465.30 100.92,465.30 101.59,465.30 102.25,465.30 102.92,465.30 103.59,465.30 104.25,465.30 104.92,465.30 105.58,465.30 106.25,465.30 106.92,465.30 107.58,465.30 108.25,465.30 108.91,465.30 109.58,465.30 110.25,465.30 110.91,465.30 111.58,465.30 112.24,465.30 112.91,465.30 113.58,465.30 114.24,465.30 114.91,465.30 115.57,465.30 116.24,465.30 116.91,465.31 117.57,465.31 118.24,465.31 118.90,465.31 119.57,465.32 120.24,465.33 120.90,465.34 121.57,465.35 122.23,465.37 122.90,465.40 123.57,465.43 124.23,465.47 124.90,465.53 125.56,465.61 126.23,465.71 126.90,465.84 127.56,466.02 128.23,466.25 128.89,466.55 129.56,466.94 130.23,467.44 130.89,468.09 131.56,468.92 132.22,469.98 132.89,471.33 133.56,473.01 134.22,475.12 134.89,477.72 135.55,480.90 136.22,484.73 136.89,489.28 137.55,494.58 138.22,500.64 138.88,507.42 139.55,514.81 140.22,522.67 140.88,530.80 141.55,538.98 142.21,546.99 142.88,554.62 143.55,561.71 144.21,568.16 144.88,573.91 145.54,578.93 146.21,583.27 146.88,586.95 147.54,590.05 148.21,592.64 148.87,594.79 149.54,596.56 150.21,598.02 150.87,599.21 151.54,600.18 152.20,600.98 152.87,601.62 153.54,602.15 154.20,602.58 154.87,602.93 155.53,603.21 156.20,603.45 156.87,603.64 157.53,603.79 158.20,603.92 158.86,604.02 159.53,604.10 160.20,604.17 160.86,604.23 161.53,604.28 162.19,604.32 162.86,604.35 163.53,604.37 164.19,604.39 164.86,604.41 165.52,604.43 166.19,604.44 166.86,604.45 167.52,604.46 168.19,604.46 168.85,604.47 169.52,604.48 170.19,604.48 170.85,604.48 171.52,604.49 172.18,604.49 172.85,604.49 173.52,604.49 174.18,604.49 174.85,604.49 175.51,604.49 176.18,604.50 176.85,604.50 177.51,604.50 178.18,604.50 178.84,604.50 179.51,604.50 180.18,604.50 180.84,604.50 181.51,604.50 182.17,604.50 182.84,604.50 183.51,604.50 184.17,604.50 184.84,604.50 185.50,604.50 186.17,604.50 186.84,604.50 187.50,604.50 188.17,604.50 188.83,604.50 189.50,604.50 190.17,604.50 190.83,604.50 191.50,604.50 192.16,604.50 192.83,604.50 193.50,604.50 194.16,604.50 194.83,604.50 195.49,604.50 196.16,604.50 196.83,604.50 197.49,604.50 198.16,604.50 198.82,604.50 199.49,604.50 200.16,604.50 200.82,604.50 201.49,604.50 202.15,604.50 202.82,604.50 203.49,604.50 204.15,604.50 204.82,604.50 205.48,604.50 206.15,604.50 206.82,604.50 207.48,604.50 208.15,604.50 208.81,604.50 209.48,604.50 210.15,604.50 210.81,604.50 211.48,604.50 212.14,604.50 212.81,604.50 213.48,604.50 214.14,604.50 214.81,604.50 215.47,604.50 216.14,604.50 216.81,604.50 217.47,604.50 218.14,604.50 218.80,604.50 219.47,604.50 220.14,604.50 220.80,604.50 221.47,604.50 222.13,604.50 222.80,604.50" fill="none" stroke="#000" stroke-width="2.3" stroke-linejoin="round"/>
<circle cx="57.30" cy="461.33" r="2.80" fill="#000"/>
<circle cx="58.96" cy="459.51" r="2.80" fill="#000"/>
<circle cx="61.63" cy="458.73" r="2.80" fill="#000"/>
<circle cx="66.62" cy="457.51" r="2.80" fill="#000"/>
<circle cx="71.28" cy="466.21" r="2.80" fill="#000"/>
<circle cx="77.11" cy="489.15" r="2.80" fill="#000"/>
<circle cx="97.92" cy="593.22" r="2.80" fill="#000"/>
<circle cx="139.55" cy="604.27" r="2.80" fill="#000"/>
<circle cx="222.80" cy="604.50" r="2.80" fill="#000"/>
<rect x="54.50" y="455.02" width="5.60" height="5.60" fill="#000"/>
<rect x="56.16" y="459.53" width="5.60" height="5.60" fill="#000"/>
<rect x="58.83" y="455.71" width="5.60" height="5.60" fill="#000"/>
<rect x="63.82" y="468.46" width="5.60" height="5.60" fill="#000"/>
<rect x="68.48" y="465.83" width="5.60" height="5.60" fill="#000"/>
<rect x="74.31" y="478.14" width="5.60" height="5.60" fill="#000"/>
<rect x="95.12" y="556.78" width="5.60" height="5.60" fill="#000"/>
<rect x="136.75" y="597.99" width="5.60" height="5.60" fill="#000"/>
<rect x="220.00" y="601.70" width="5.60" height="5.60" fill="#000"/>
<polygon points="57.30,470.37 60.24,475.69 54.36,475.69" fill="#000"/>
<polygon points="58.96,467.25 61.90,472.57 56.02,472.57" fill="#000"/>
<polygon points="61.63,466.30 64.57,471.62 58.69,471.62" fill="#000"/>
<polygon points="66.62,456.68 69.56,462.00 63.68,462.00" fill="#000"/>
<polygon points="71.28,459.71 74.22,465.03 68.34,465.03" fill="#000"/>
<polygon points="77.11,470.80 80.05,476.12 74.17,476.12" fill="#000"/>
<polygon points="97.92,531.48 100.86,536.80 94.98,536.80" fill="#000"/>
<polygon points="139.55,600.55 142.49,605.87 136.61,605.87" fill="#000"/>
<polygon points="222.80,601.42 225.74,606.74 219.86,606.74" fill="#000"/>
<polygon points="57.30,463.10 60.24,457.78 54.36,457.78" fill="#000"/>
<polygon points="58.96,470.62 61.90,465.30 56.02,465.30" fill="#000"/>
<polygon points="61.63,472.53 64.57,467.21 58.69,467.21" fill="#000"/>
<polygon points="66.62,459.26 69.56,453.94 63.68,453.94" fill="#000"/>
<polygon points="71.28,469.71 74.22,464.39 68.34,464.39" fill="#000"/>
<polygon points="77.11,470.17 80.05,464.85 74.17,464.85" fill="#000"/>
<polygon points="97.92,520.60 100.86,515.28 94.98,515.28" fill="#000"/>
<polygon points="139.55,600.28 142.49,594.96 136.61,594.96" fill="#000"/>
<polygon points="222.80,607.58 225.74,602.26 219.86,602.26" fill="#000"/>
<polygon points="57.30,465.03 59.82,467.83 57.30,470.63 54.78,467.83" fill="#000"/>
<polygon points="58.96,454.74 61.48,457.54 58.96,460.34 56.44,457.54" fill="#000"/>
<polygon points="61.63,461.21 64.15,464.01 61.63,466.81 59.11,464.01" fill="#000"/>
<polygon points="66.62,459.15 69.14,461.95 66.62,464.75 64.10,461.95" fill="#000"/>
<polygon points="71.28,466.75 73.80,469.55 71.28,472.35 68.77,469.55" fill="#000"/>
<polygon points="77.11,461.01 79.63,463.81 77.11,466.61 74.59,463.81" fill="#000"/>
<polygon points="97.92,508.03 100.44,510.83 97.92,513.63 95.41,510.83" fill="#000"/>
<polygon points="139.55,590.02 142.07,592.82 139.55,595.62 137.03,592.82" fill="#000"/>
<polygon points="222.80,601.70 225.32,604.50 222.80,607.30 220.28,604.50" fill="#000"/>
<circle cx="57.30" cy="459.97" r="2.80" fill="#000"/>
<circle cx="58.96" cy="469.08" r="2.80" fill="#000"/>
<circle cx="61.63" cy="468.12" r="2.80" fill="#000"/>
<circle cx="66.62" cy="471.16" r="2.80" fill="#000"/>
<circle cx="71.28" cy="471.74" r="2.80" fill="#000"/>
<circle cx="77.11" cy="471.98" r="2.80" fill="#000"/>
<circle cx="97.92" cy="507.02" r="2.80" fill="#000"/>
<circle cx="139.55" cy="593.71" r="2.80" fill="#000"/>
<circle cx="222.80" cy="604.50" r="2.80" fill="#000"/>
<rect x="54.50" y="468.02" width="5.60" height="5.60" fill="#000"/>
<rect x="56.16" y="457.69" width="5.60" height="5.60" fill="#000"/>
<rect x="58.83" y="462.90" width="5.60" height="5.60" fill="#000"/>
<rect x="63.82" y="463.41" width="5.60" height="5.60" fill="#000"/>
<rect x="68.48" y="456.00" width="5.60" height="5.60" fill="#000"/>
<rect x="74.31" y="463.30" width="5.60" height="5.60" fill="#000"/>
<rect x="95.12" y="497.68" width="5.60" height="5.60" fill="#000"/>
<rect x="136.75" y="585.96" width="5.60" height="5.60" fill="#000"/>
<rect x="220.00" y="601.70" width="5.60" height="5.60" fill="#000"/>
<polygon points="57.30,455.61 60.24,460.93 54.36,460.93" fill="#000"/>
<polygon points="58.96,465.52 61.90,470.84 56.02,470.84" fill="#000"/>
<polygon points="61.63,451.47 64.57,456.79 58.69,456.79" fill="#000"/>
<polygon points="66.62,466.16 69.56,471.48 63.68,471.48" fill="#000"/>
<polygon points="71.28,455.45 74.22,460.77 68.34,460.77" fill="#000"/>
<polygon points="77.11,458.67 80.05,463.99 74.17,463.99" fill="#000"/>
<polygon points="97.92,494.40 100.86,499.72 94.98,499.72" fill="#000"/>
<polygon points="139.55,576.83 142.49,582.15 136.61,582.15" fill="#000"/>
<polygon points="222.80,601.42 225.74,606.74 219.86,606.74" fill="#000"/>
<polygon points="57.30,465.56 60.24,460.24 54.36,460.24" fill="#000"/>
<polygon points="58.96,462.31 61.90,456.99 56.02,456.99" fill="#000"/>
<polygon points="61.63,471.03 64.57,465.71 58.69,465.71" fill="#000"/>
<polygon points="66.62,470.46 69.56,465.14 63.68,465.14" fill="#000"/>
<polygon points="71.28,468.48 74.22,463.16 68.34,463.16" fill="#000"/>
<polygon points="77.11,460.81 80.05,455.49 74.17,455.49" fill="#000"/>
<polygon points="97.92,475.96 100.86,470.64 94.98,470.64" fill="#000"/>
<polygon points="139.55,553.05 142.49,547.73 136.61,547.73" fill="#000"/>
<polygon points="222.80,607.58 225.74,602.26 219.86,602.26" fill="#000"/>
<polygon points="57.30,455.23 59.82,458.03 57.30,460.83 54.78,458.03" fill="#000"/>
<polygon points="58.96,455.04 61.48,457.84 58.96,460.64 56.44,457.84" fill="#000"/>
<polygon points="61.63,464.19 64.15,466.99 61.63,469.79 59.11,466.99" fill="#000"/>
<polygon points="66.62,464.03 69.14,466.83 66.62,469.63 64.10,466.83" fill="#000"/>
<polygon points="71.28,461.47 73.80,464.27 71.28,467.07 68.77,464.27" fill="#000"/>
<polygon points="77.11,460.41 79.63,463.21 77.11,466.01 74.59,463.21" fill="#000"/>
<polygon points="97.92,471.55 100.44,474.35 97.92,477.15 95.41,474.35" fill="#000"/>
<polygon points="139.55,537.75 142.07,540.55 139.55,543.35 137.03,540.55" fill="#000"/>
<polygon points="222.80,601.70 225.32,604.50 222.80,607.30 220.28,604.50" fill="#000"/>
<path d="M54.50,454.47L60.10,460.07M60.10,454.47L54.50,460.07" stroke="#000" stroke-width="1.4" fill="none"/>
<path d="M56.16,453.51L61.76,459.11M61.76,453.51L56.16,459.11" stroke="#000" stroke-width="1.4" fill="none"/>
<path d="M58.83,466.12L64.43,471.72M64.43,466.12L58.83,471.72" stroke="#000" stroke-width="1.4" fill="none"/>
<path d="M63.82,452.20L69.42,457.80M69.42,452.20L63.82,457.80" stroke="#000" stroke-width="1.4" fill="none"/>
<path d="M68.48,465.30L74.08,470.90M74.08,465.30L68.48,470.90" stroke="#000" stroke-width="1.4" fill="none"/>
<path d="M74.31,461.16L79.91,466.76M79.91,461.16L74.31,466.76" stroke="#000" stroke-width="1.4" fill="none"/>
<path d="M95.12,462.35L100.72,467.95M100.72,462.35L95.12,467.95" stroke="#000" stroke-width="1.4" fill="none"/>
<path d="M136.75,521.41L142.35,527.01M142.35,521.41L136.75,527.01" stroke="#000" stroke-width="1.4" fill="none"/>
<path d="M220.00,601.70L225.60,607.30M225.60,601.70L220.00,607.30" stroke="#000" stroke-width="1.4" fill="none"/>
<path d="M54.50,467.05L60.10,467.05M57.30,464.25L57.30,469.85" stroke="#000" stroke-width="1.4" fill="none"/>
<path d="M56.16,458.11L61.76,458.11M58.96,455.31L58.96,460.91" stroke="#000" stroke-width="1.4" fill="none"/>
<path d="M58.83,463.91L64.43,463.91M61.63,461.11L61.63,466.71" stroke="#000" stroke-width="1.4" fill="none"/>
<path d="M63.82,467.48L69.42,467.48M66.62,464.68L66.62,470.28" stroke="#000" stroke-width="1.4" fill="none"/>
<path d="M68.48,467.41L74.08,467.41M71.28,464.61L71.28,470.21" stroke="#000" stroke-width="1.4" fill="none"/>
<path d="M74.31,467.99L79.91,467.99M77.11,465.19L77.11,470.79" stroke="#000" stroke-width="1.4" fill="none"/>
<path d="M95.12,468.82L100.72,468.82M97.92,466.02L97.92,471.62" stroke="#000" stroke-width="1.4" fill="none"/>
<path d="M136.75,517.75L142.35,517.75M139.55,514.95L139.55,520.55" stroke="#000" stroke-width="1.4" fill="none"/>
<path d="M220.00,604.50L225.60,604.50M222.80,601.70L222.80,607.30" stroke="#000" stroke-width="1.4" fill="none"/>
<polygon points="61.53,441.12 64.68,446.82 58.38,446.82" fill="#000"/>
<path d="M63.49,449.97L69.09,455.57M69.09,449.97L63.49,455.57" stroke="#000" stroke-width="1.4" fill="none"/>
<rect x="73.95" y="453.25" width="6.00" height="6.00" fill="#000"/>
<polygon points="97.92,462.34 101.08,456.64 94.77,456.64" fill="#000"/>
<rect x="56.83" y="451.36" width="5.60" height="5.60" fill="#000"/>
<line x1="56.30" y1="437.00" x2="56.30" y2="605.50" stroke="#000" stroke-width="1.8" />
<line x1="55.30" y1="604.50" x2="262.00" y2="604.50" stroke="#000" stroke-width="2.0" />
<line x1="53.30" y1="604.50" x2="56.30" y2="604.50" stroke="#000" stroke-width="1.5" />
<text x="50.60" y="609.66" font-size="14.4" text-anchor="end" font-family="Liberation Sans, sans-serif" font-weight="bold"  textLength="28.60" lengthAdjust="spacingAndGlyphs" stroke="#000" stroke-width="0.35">0.00</text>
<line x1="53.30" y1="569.70" x2="56.30" y2="569.70" stroke="#000" stroke-width="1.5" />
<text x="50.60" y="574.86" font-size="14.4" text-anchor="end" font-family="Liberation Sans, sans-serif" font-weight="bold"  textLength="28.60" lengthAdjust="spacingAndGlyphs" stroke="#000" stroke-width="0.35">0.25</text>
<line x1="53.30" y1="534.90" x2="56.30" y2="534.90" stroke="#000" stroke-width="1.5" />
<text x="50.60" y="540.06" font-size="14.4" text-anchor="end" font-family="Liberation Sans, sans-serif" font-weight="bold"  textLength="28.60" lengthAdjust="spacingAndGlyphs" stroke="#000" stroke-width="0.35">0.50</text>
<line x1="53.30" y1="500.10" x2="56.30" y2="500.10" stroke="#000" stroke-width="1.5" />
<text x="50.60" y="505.26" font-size="14.4" text-anchor="end" font-family="Liberation Sans, sans-serif" font-weight="bold"  textLength="28.60" lengthAdjust="spacingAndGlyphs" stroke="#000" stroke-width="0.35">0.75</text>
<line x1="53.30" y1="465.30" x2="56.30" y2="465.30" stroke="#000" stroke-width="1.5" />
<text x="50.60" y="470.46" font-size="14.4" text-anchor="end" font-family="Liberation Sans, sans-serif" font-weight="bold"  textLength="28.60" lengthAdjust="spacingAndGlyphs" stroke="#000" stroke-width="0.35">1.00</text>
<line x1="56.30" y1="604.50" x2="56.30" y2="608.00" stroke="#000" stroke-width="1.0" />
<line x1="60.46" y1="604.50" x2="60.46" y2="607.00" stroke="#000" stroke-width="1.0" />
<line x1="64.62" y1="604.50" x2="64.62" y2="607.00" stroke="#000" stroke-width="1.0" />
<line x1="68.79" y1="604.50" x2="68.79" y2="607.00" stroke="#000" stroke-width="1.0" />
<line x1="72.95" y1="604.50" x2="72.95" y2="607.00" stroke="#000" stroke-width="1.0" />
<line x1="77.11" y1="604.50" x2="77.11" y2="607.00" stroke="#000" stroke-width="1.0" />
<line x1="81.27" y1="604.50" x2="81.27" y2="607.00" stroke="#000" stroke-width="1.0" />
<line x1="85.44" y1="604.50" x2="85.44" y2="607.00" stroke="#000" stroke-width="1.0" />
<line x1="89.60" y1="604.50" x2="89.60" y2="608.00" stroke="#000" stroke-width="1.0" />
<line x1="93.76" y1="604.50" x2="93.76" y2="607.00" stroke="#000" stroke-width="1.0" />
<line x1="97.92" y1="604.50" x2="97.92" y2="607.00" stroke="#000" stroke-width="1.0" />
<line x1="102.09" y1="604.50" x2="102.09" y2="607.00" stroke="#000" stroke-width="1.0" />
<line x1="106.25" y1="604.50" x2="106.25" y2="607.00" stroke="#000" stroke-width="1.0" />
<line x1="110.41" y1="604.50" x2="110.41" y2="607.00" stroke="#000" stroke-width="1.0" />
<line x1="114.57" y1="604.50" x2="114.57" y2="607.00" stroke="#000" stroke-width="1.0" />
<line x1="118.74" y1="604.50" x2="118.74" y2="607.00" stroke="#000" stroke-width="1.0" />
<line x1="122.90" y1="604.50" x2="122.90" y2="608.00" stroke="#000" stroke-width="1.0" />
<line x1="127.06" y1="604.50" x2="127.06" y2="607.00" stroke="#000" stroke-width="1.0" />
<line x1="131.22" y1="604.50" x2="131.22" y2="607.00" stroke="#000" stroke-width="1.0" />
<line x1="135.39" y1="604.50" x2="135.39" y2="607.00" stroke="#000" stroke-width="1.0" />
<line x1="139.55" y1="604.50" x2="139.55" y2="607.00" stroke="#000" stroke-width="1.0" />
<line x1="143.71" y1="604.50" x2="143.71" y2="607.00" stroke="#000" stroke-width="1.0" />
<line x1="147.88" y1="604.50" x2="147.88" y2="607.00" stroke="#000" stroke-width="1.0" />
<line x1="152.04" y1="604.50" x2="152.04" y2="607.00" stroke="#000" stroke-width="1.0" />
<line x1="156.20" y1="604.50" x2="156.20" y2="608.00" stroke="#000" stroke-width="1.0" />
<line x1="160.36" y1="604.50" x2="160.36" y2="607.00" stroke="#000" stroke-width="1.0" />
<line x1="164.52" y1="604.50" x2="164.52" y2="607.00" stroke="#000" stroke-width="1.0" />
<line x1="168.69" y1="604.50" x2="168.69" y2="607.00" stroke="#000" stroke-width="1.0" />
<line x1="172.85" y1="604.50" x2="172.85" y2="607.00" stroke="#000" stroke-width="1.0" />
<line x1="177.01" y1="604.50" x2="177.01" y2="607.00" stroke="#000" stroke-width="1.0" />
<line x1="181.17" y1="604.50" x2="181.17" y2="607.00" stroke="#000" stroke-width="1.0" />
<line x1="185.34" y1="604.50" x2="185.34" y2="607.00" stroke="#000" stroke-width="1.0" />
<line x1="189.50" y1="604.50" x2="189.50" y2="608.00" stroke="#000" stroke-width="1.0" />
<line x1="193.66" y1="604.50" x2="193.66" y2="607.00" stroke="#000" stroke-width="1.0" />
<line x1="197.82" y1="604.50" x2="197.82" y2="607.00" stroke="#000" stroke-width="1.0" />
<line x1="201.99" y1="604.50" x2="201.99" y2="607.00" stroke="#000" stroke-width="1.0" />
<line x1="206.15" y1="604.50" x2="206.15" y2="607.00" stroke="#000" stroke-width="1.0" />
<line x1="210.31" y1="604.50" x2="210.31" y2="607.00" stroke="#000" stroke-width="1.0" />
<line x1="214.47" y1="604.50" x2="214.47" y2="607.00" stroke="#000" stroke-width="1.0" />
<line x1="218.64" y1="604.50" x2="218.64" y2="607.00" stroke="#000" stroke-width="1.0" />
<line x1="222.80" y1="604.50" x2="222.80" y2="608.00" stroke="#000" stroke-width="1.0" />
<line x1="226.96" y1="604.50" x2="226.96" y2="607.00" stroke="#000" stroke-width="1.0" />
<line x1="231.12" y1="604.50" x2="231.12" y2="607.00" stroke="#000" stroke-width="1.0" />
<line x1="235.29" y1="604.50" x2="235.29" y2="607.00" stroke="#000" stroke-width="1.0" />
<line x1="239.45" y1="604.50" x2="239.45" y2="607.00" stroke="#000" stroke-width="1.0" />
<line x1="243.61" y1="604.50" x2="243.61" y2="607.00" stroke="#000" stroke-width="1.0" />
<line x1="247.77" y1="604.50" x2="247.77" y2="607.00" stroke="#000" stroke-width="1.0" />
<line x1="251.94" y1="604.50" x2="251.94" y2="607.00" stroke="#000" stroke-width="1.0" />
<line x1="256.10" y1="604.50" x2="256.10" y2="608.00" stroke="#000" stroke-width="1.0" />
<text x="56.30" y="621.50" font-size="14.2" text-anchor="middle" font-family="Liberation Sans, sans-serif" font-weight="bold"  textLength="8.30" lengthAdjust="spacingAndGlyphs" stroke="#000" stroke-width="0.35">0</text>
<text x="89.60" y="621.50" font-size="14.2" text-anchor="middle" font-family="Liberation Sans, sans-serif" font-weight="bold"  textLength="8.30" lengthAdjust="spacingAndGlyphs" stroke="#000" stroke-width="0.35">1</text>
<text x="122.90" y="621.50" font-size="14.2" text-anchor="middle" font-family="Liberation Sans, sans-serif" font-weight="bold"  textLength="8.30" lengthAdjust="spacingAndGlyphs" stroke="#000" stroke-width="0.35">2</text>
<text x="156.20" y="621.50" font-size="14.2" text-anchor="middle" font-family="Liberation Sans, sans-serif" font-weight="bold"  textLength="8.30" lengthAdjust="spacingAndGlyphs" stroke="#000" stroke-width="0.35">3</text>
<text x="189.50" y="621.50" font-size="14.2" text-anchor="middle" font-family="Liberation Sans, sans-serif" font-weight="bold"  textLength="8.30" lengthAdjust="spacingAndGlyphs" stroke="#000" stroke-width="0.35">4</text>
<text x="222.80" y="621.50" font-size="14.2" text-anchor="middle" font-family="Liberation Sans, sans-serif" font-weight="bold"  textLength="8.30" lengthAdjust="spacingAndGlyphs" stroke="#000" stroke-width="0.35">5</text>
<text x="256.10" y="621.50" font-size="14.2" text-anchor="middle" font-family="Liberation Sans, sans-serif" font-weight="bold"  textLength="8.30" lengthAdjust="spacingAndGlyphs" stroke="#000" stroke-width="0.35">6</text>
<text x="157.00" y="646.30" font-size="14.7" text-anchor="middle" font-family="Liberation Sans, sans-serif" font-weight="bold"  textLength="69.70" lengthAdjust="spacingAndGlyphs" stroke="#000" stroke-width="0.35">CPX (&#956;M)</text>
<text x="13.10" y="515.00" font-size="18" text-anchor="middle" font-family="Liberation Sans, sans-serif" font-weight="bold" transform="rotate(-90 13.10 515.00)"  textLength="140.20" lengthAdjust="spacingAndGlyphs" stroke="#000" stroke-width="0.35">Relative viability</text>
<text x="46.00" y="414.70" font-size="17.8" text-anchor="start" font-family="Liberation Sans, sans-serif" font-weight="bold"  textLength="159.00" lengthAdjust="spacingAndGlyphs" stroke="#000" stroke-width="0.35">AML primary cells</text>
<circle cx="221.20" cy="478.30" r="2.80" fill="#000"/>
<text x="228.40" y="481.60" font-size="10.4" text-anchor="start" font-family="Liberation Sans, sans-serif" font-weight="bold"  stroke="#000" stroke-width="0.18">1</text>
<rect x="218.50" y="485.03" width="5.40" height="5.40" fill="#000"/>
<text x="228.40" y="491.03" font-size="10.4" text-anchor="start" font-family="Liberation Sans, sans-serif" font-weight="bold"  stroke="#000" stroke-width="0.18">2</text>
<polygon points="221.20,493.64 224.56,499.72 217.84,499.72" fill="#000"/>
<text x="228.40" y="500.46" font-size="10.4" text-anchor="start" font-family="Liberation Sans, sans-serif" font-weight="bold"  stroke="#000" stroke-width="0.18">3</text>
<polygon points="221.20,510.11 224.56,504.03 217.84,504.03" fill="#000"/>
<text x="228.40" y="509.89" font-size="10.4" text-anchor="start" font-family="Liberation Sans, sans-serif" font-weight="bold"  stroke="#000" stroke-width="0.18">4</text>
<polygon points="221.20,512.42 224.44,516.02 221.20,519.62 217.96,516.02" fill="#000"/>
<text x="228.40" y="519.32" font-size="10.4" text-anchor="start" font-family="Liberation Sans, sans-serif" font-weight="bold"  stroke="#000" stroke-width="0.18">5</text>
<circle cx="221.20" cy="525.45" r="3.50" fill="#000"/>
<text x="228.40" y="528.75" font-size="10.4" text-anchor="start" font-family="Liberation Sans, sans-serif" font-weight="bold"  stroke="#000" stroke-width="0.18">6</text>
<rect x="217.82" y="531.50" width="6.75" height="6.75" fill="#000"/>
<text x="228.40" y="538.18" font-size="10.4" text-anchor="start" font-family="Liberation Sans, sans-serif" font-weight="bold"  stroke="#000" stroke-width="0.18">7</text>
<polygon points="221.20,539.91 225.40,547.51 217.00,547.51" fill="#000"/>
<text x="228.40" y="547.61" font-size="10.4" text-anchor="start" font-family="Liberation Sans, sans-serif" font-weight="bold"  stroke="#000" stroke-width="0.18">8</text>
<polygon points="221.20,558.14 225.40,550.54 217.00,550.54" fill="#000"/>
<text x="228.40" y="557.04" font-size="10.4" text-anchor="start" font-family="Liberation Sans, sans-serif" font-weight="bold"  stroke="#000" stroke-width="0.18">9</text>
<polygon points="221.20,558.67 225.25,563.17 221.20,567.67 217.15,563.17" fill="#000"/>
<text x="228.40" y="566.47" font-size="10.4" text-anchor="start" font-family="Liberation Sans, sans-serif" font-weight="bold"  stroke="#000" stroke-width="0.18">10</text>
<path d="M218.10,569.50L224.30,575.70M224.30,569.50L218.10,575.70" stroke="#000" stroke-width="1.6" fill="none"/>
<text x="228.40" y="575.90" font-size="10.4" text-anchor="start" font-family="Liberation Sans, sans-serif" font-weight="bold"  stroke="#000" stroke-width="0.18">11</text>
<path d="M217.90,582.03L224.50,582.03M221.20,578.73L221.20,585.33" stroke="#000" stroke-width="1.6" fill="none"/>
<text x="228.40" y="585.33" font-size="10.4" text-anchor="start" font-family="Liberation Sans, sans-serif" font-weight="bold"  stroke="#000" stroke-width="0.18">12</text>
<line x1="346.60" y1="465.99" x2="346.60" y2="451.36" stroke="#000" stroke-width="1.6" />
<line x1="344.00" y1="451.36" x2="349.20" y2="451.36" stroke="#000" stroke-width="1.6" />
<line x1="360.00" y1="466.54" x2="360.00" y2="456.19" stroke="#000" stroke-width="1.6" />
<line x1="357.40" y1="456.19" x2="362.60" y2="456.19" stroke="#000" stroke-width="1.6" />
<rect x="341.10" y="465.99" width="11" height="138.41" fill="#000"/>
<rect x="355.60" y="467.64" width="8.8" height="136.76" fill="#d9d9d9" stroke="#000" stroke-width="2.3"/>
<line x1="353.30" y1="604.40" x2="353.30" y2="608.40" stroke="#000" stroke-width="1.6" />
<text x="353.30" y="620.20" font-size="10.5" text-anchor="middle" font-family="Liberation Sans, sans-serif" font-weight="bold"  textLength="6.60" lengthAdjust="spacingAndGlyphs" stroke="#000" stroke-width="0.18">0</text>
<line x1="382.10" y1="478.41" x2="382.10" y2="447.36" stroke="#000" stroke-width="1.6" />
<line x1="379.50" y1="447.36" x2="384.70" y2="447.36" stroke="#000" stroke-width="1.6" />
<line x1="395.50" y1="474.27" x2="395.50" y2="459.50" stroke="#000" stroke-width="1.6" />
<line x1="392.90" y1="459.50" x2="398.10" y2="459.50" stroke="#000" stroke-width="1.6" />
<rect x="376.60" y="478.41" width="11" height="125.99" fill="#000"/>
<rect x="391.10" y="475.37" width="8.8" height="129.03" fill="#d9d9d9" stroke="#000" stroke-width="2.3"/>
<line x1="388.80" y1="604.40" x2="388.80" y2="608.40" stroke="#000" stroke-width="1.6" />
<text x="388.80" y="620.20" font-size="10.5" text-anchor="middle" font-family="Liberation Sans, sans-serif" font-weight="bold"  textLength="6.60" lengthAdjust="spacingAndGlyphs" stroke="#000" stroke-width="0.18">1</text>
<line x1="417.60" y1="511.80" x2="417.60" y2="490.83" stroke="#000" stroke-width="1.6" />
<line x1="415.00" y1="490.83" x2="420.20" y2="490.83" stroke="#000" stroke-width="1.6" />
<line x1="431.00" y1="538.57" x2="431.00" y2="522.01" stroke="#000" stroke-width="1.6" />
<line x1="428.40" y1="522.01" x2="433.60" y2="522.01" stroke="#000" stroke-width="1.6" />
<rect x="412.10" y="511.80" width="11" height="92.60" fill="#000"/>
<rect x="426.60" y="539.67" width="8.8" height="64.73" fill="#d9d9d9" stroke="#000" stroke-width="2.3"/>
<line x1="424.30" y1="604.40" x2="424.30" y2="608.40" stroke="#000" stroke-width="1.6" />
<text x="424.30" y="620.20" font-size="10.5" text-anchor="middle" font-family="Liberation Sans, sans-serif" font-weight="bold"  textLength="6.60" lengthAdjust="spacingAndGlyphs" stroke="#000" stroke-width="0.18">3</text>
<line x1="453.10" y1="553.34" x2="453.10" y2="526.98" stroke="#000" stroke-width="1.6" />
<line x1="450.50" y1="526.98" x2="455.70" y2="526.98" stroke="#000" stroke-width="1.6" />
<line x1="466.50" y1="582.46" x2="466.50" y2="557.07" stroke="#000" stroke-width="1.6" />
<line x1="463.90" y1="557.07" x2="469.10" y2="557.07" stroke="#000" stroke-width="1.6" />
<rect x="447.60" y="553.34" width="11" height="51.06" fill="#000"/>
<rect x="462.10" y="583.56" width="8.8" height="20.84" fill="#d9d9d9" stroke="#000" stroke-width="2.3"/>
<line x1="459.80" y1="604.40" x2="459.80" y2="608.40" stroke="#000" stroke-width="1.6" />
<text x="459.80" y="620.20" font-size="10.5" text-anchor="middle" font-family="Liberation Sans, sans-serif" font-weight="bold"  textLength="6.60" lengthAdjust="spacingAndGlyphs" stroke="#000" stroke-width="0.18">6</text>
<line x1="488.60" y1="578.46" x2="488.60" y2="560.93" stroke="#000" stroke-width="1.6" />
<line x1="486.00" y1="560.93" x2="491.20" y2="560.93" stroke="#000" stroke-width="1.6" />
<line x1="502.00" y1="580.53" x2="502.00" y2="560.93" stroke="#000" stroke-width="1.6" />
<line x1="499.40" y1="560.93" x2="504.60" y2="560.93" stroke="#000" stroke-width="1.6" />
<rect x="483.10" y="578.46" width="11" height="25.94" fill="#000"/>
<rect x="497.60" y="581.63" width="8.8" height="22.77" fill="#d9d9d9" stroke="#000" stroke-width="2.3"/>
<line x1="495.30" y1="604.40" x2="495.30" y2="608.40" stroke="#000" stroke-width="1.6" />
<text x="495.30" y="620.20" font-size="10.5" text-anchor="middle" font-family="Liberation Sans, sans-serif" font-weight="bold"  textLength="13.80" lengthAdjust="spacingAndGlyphs" stroke="#000" stroke-width="0.18">10</text>
<line x1="335.70" y1="439.00" x2="335.70" y2="605.40" stroke="#000" stroke-width="1.8" />
<line x1="334.70" y1="604.40" x2="512.70" y2="604.40" stroke="#000" stroke-width="2.0" />
<line x1="331.40" y1="604.40" x2="335.70" y2="604.40" stroke="#000" stroke-width="1.5" />
<text x="330.40" y="608.27" font-size="10.8" text-anchor="end" font-family="Liberation Sans, sans-serif" font-weight="bold"  textLength="6.60" lengthAdjust="spacingAndGlyphs" stroke="#000" stroke-width="0.18">0</text>
<line x1="331.40" y1="569.90" x2="335.70" y2="569.90" stroke="#000" stroke-width="1.5" />
<text x="330.40" y="573.77" font-size="10.8" text-anchor="end" font-family="Liberation Sans, sans-serif" font-weight="bold"  textLength="13.20" lengthAdjust="spacingAndGlyphs" stroke="#000" stroke-width="0.18">25</text>
<line x1="331.40" y1="535.40" x2="335.70" y2="535.40" stroke="#000" stroke-width="1.5" />
<text x="330.40" y="539.27" font-size="10.8" text-anchor="end" font-family="Liberation Sans, sans-serif" font-weight="bold"  textLength="13.20" lengthAdjust="spacingAndGlyphs" stroke="#000" stroke-width="0.18">50</text>
<line x1="331.40" y1="500.90" x2="335.70" y2="500.90" stroke="#000" stroke-width="1.5" />
<text x="330.40" y="504.77" font-size="10.8" text-anchor="end" font-family="Liberation Sans, sans-serif" font-weight="bold"  textLength="13.20" lengthAdjust="spacingAndGlyphs" stroke="#000" stroke-width="0.18">75</text>
<line x1="331.40" y1="466.40" x2="335.70" y2="466.40" stroke="#000" stroke-width="1.5" />
<text x="330.40" y="470.27" font-size="10.8" text-anchor="end" font-family="Liberation Sans, sans-serif" font-weight="bold"  textLength="19.70" lengthAdjust="spacingAndGlyphs" stroke="#000" stroke-width="0.18">100</text>
<text x="424.40" y="641.80" font-size="14.4" text-anchor="middle" font-family="Liberation Sans, sans-serif" font-weight="bold"  textLength="66.20" lengthAdjust="spacingAndGlyphs" stroke="#000" stroke-width="0.35">CPX (&#956;M)</text>
<text x="303.00" y="519.70" font-size="14.2" text-anchor="middle" font-family="Liberation Sans, sans-serif" font-weight="bold" transform="rotate(-90 303.00 519.70)"  textLength="151.50" lengthAdjust="spacingAndGlyphs" stroke="#000" stroke-width="0.35">Colony Formation (%)</text>
<text x="323.00" y="413.30" font-size="18" text-anchor="start" font-family="Liberation Sans, sans-serif" font-weight="bold"  textLength="180.60" lengthAdjust="spacingAndGlyphs" stroke="#000" stroke-width="0.35">Normal primary cells</text>
<rect x="447.5" y="462.5" width="18.5" height="9" fill="#000"/>
<rect x="448.0" y="477.4" width="17.6" height="7.6" fill="#d9d9d9" stroke="#000" stroke-width="2.2"/>
<text x="467.90" y="471.20" font-size="9.6" text-anchor="start" font-family="Liberation Sans, sans-serif" font-weight="bold"  textLength="34.10" lengthAdjust="spacingAndGlyphs" stroke="#000" stroke-width="0.18">BFU-E</text>
<text x="467.90" y="484.90" font-size="9.6" text-anchor="start" font-family="Liberation Sans, sans-serif" font-weight="bold"  textLength="44.90" lengthAdjust="spacingAndGlyphs" stroke="#000" stroke-width="0.18">CFU-GM</text>
</svg></body></html>
